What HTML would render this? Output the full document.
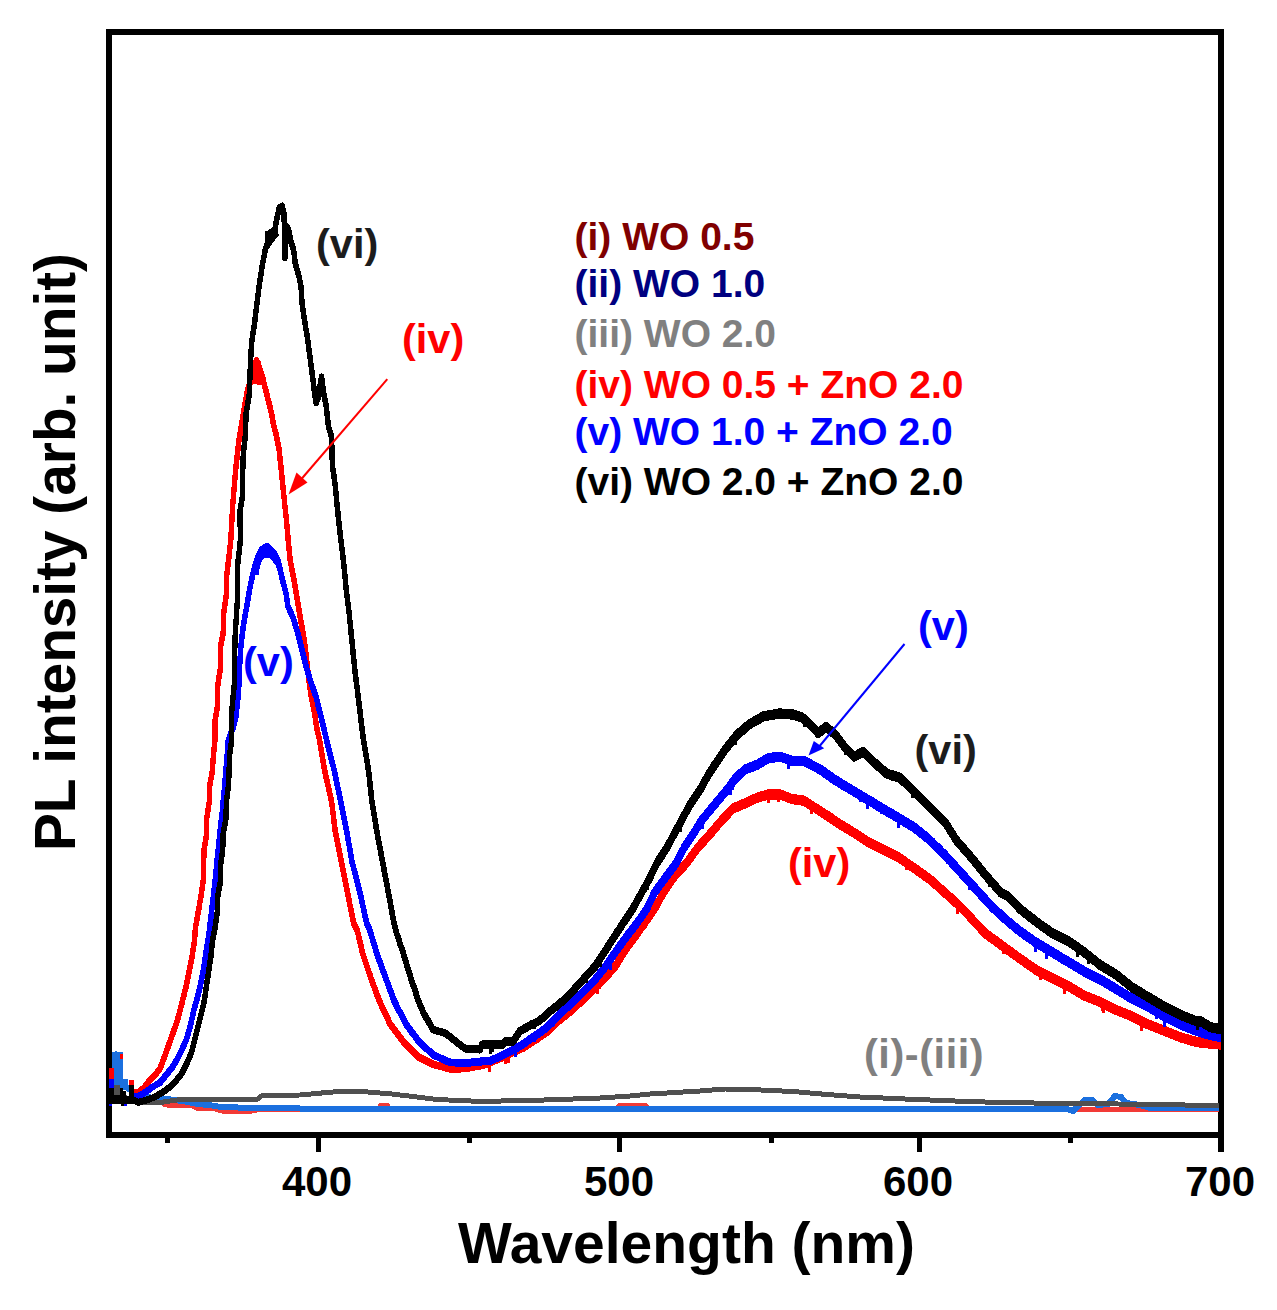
<!DOCTYPE html>
<html><head><meta charset="utf-8">
<style>
html,body{margin:0;padding:0;background:#fff;}
body{width:1277px;height:1310px;overflow:hidden;}
svg{display:block;}
text{font-family:"Liberation Sans",sans-serif;font-weight:bold;}
</style></head><body>
<svg width="1277" height="1310" viewBox="0 0 1277 1310">
<rect x="0" y="0" width="1277" height="1310" fill="#fff"/>
<g shape-rendering="crispEdges">
<rect x="106" y="29" width="1118" height="6" fill="#000"/>
<rect x="106" y="1132" width="1118" height="6" fill="#000"/>
<rect x="106" y="29" width="6" height="1109" fill="#000"/>
<rect x="1218" y="29" width="6" height="1109" fill="#000"/>
</g>
<g shape-rendering="crispEdges">
<polyline points="135.0,1097.0 147.0,1102.5 156.0,1102.5 160.0,1101.0 165.0,1105.0 192.0,1105.2 196.0,1108.0 212.0,1108.0 223.0,1111.3 254.0,1111.0 259.0,1109.3 300.0,1109.3 378.0,1109.5 381.0,1105.0 387.0,1105.0 390.0,1109.5 615.0,1109.5 620.0,1105.0 645.0,1105.0 650.0,1109.5 1219.0,1109.0" fill="none" stroke="#f23a36" stroke-width="5" stroke-linejoin="round" stroke-linecap="butt"/>
<polyline points="126.0,1087.0 135.0,1093.0 145.0,1097.0 162.0,1098.6 175.0,1100.0 185.0,1101.5 195.0,1103.5 212.0,1105.5 221.0,1107.0 265.0,1108.3 300.0,1108.5 540.0,1108.5 880.0,1109.0 1067.0,1109.0 1073.0,1111.0 1078.0,1106.0 1085.0,1100.0 1092.0,1100.0 1098.0,1105.0 1108.0,1104.0 1115.0,1096.0 1121.0,1097.0 1126.0,1103.0 1140.0,1105.0 1150.0,1108.0 1219.0,1108.0" fill="none" stroke="#1b70df" stroke-width="6" stroke-linejoin="round" stroke-linecap="butt"/>
<polygon points="112,1052 115,1052 115,1050.5 117,1050.5 117,1052 122.5,1052 122.5,1079 128.2,1079 128.2,1090 112,1090" fill="#1b70df"/>
<polyline points="122.0,1096.0 130.0,1100.0 140.0,1103.0 160.0,1102.5 184.0,1099.0 220.0,1099.0 258.0,1099.0 262.0,1095.5 280.0,1095.3 300.0,1095.0 327.0,1092.5 345.0,1091.0 362.0,1091.5 392.0,1094.0 417.0,1097.0 437.0,1099.5 480.0,1101.4 528.0,1100.5 560.0,1099.5 600.0,1098.0 630.0,1096.0 650.0,1094.0 700.0,1091.0 725.0,1089.0 750.0,1089.5 793.0,1091.5 827.0,1094.5 860.0,1097.0 905.0,1099.0 955.0,1101.0 1000.0,1102.5 1067.0,1103.5 1168.0,1104.5 1219.0,1106.0" fill="none" stroke="#505050" stroke-width="5" stroke-linejoin="round" stroke-linecap="butt"/>
<rect x="114.4" y="1085" width="5.6" height="10" fill="#505050"/>
<rect x="109" y="1068" width="5.4" height="11" fill="#ff0000"/><rect x="120" y="1054" width="2.5" height="5.4" fill="#ff0000"/><rect x="128.8" y="1079.5" width="5" height="5" fill="#ff0000"/><rect x="133.8" y="1090" width="8.8" height="5" fill="#ff0000"/>
<polyline points="134.0,1091.7 136.0,1092.0 138.0,1092.2 139.6,1090.8 141.2,1089.3 142.9,1087.9 144.5,1086.4 146.1,1084.3 147.6,1082.3 149.2,1080.2 150.8,1078.6 152.3,1077.0 153.8,1075.5 155.4,1073.9 157.0,1071.8 158.5,1069.7 160.1,1067.6 160.9,1065.5 161.7,1063.4 162.4,1061.4 163.2,1059.3 164.0,1057.2 164.8,1055.1 165.6,1052.9 166.4,1050.7 167.1,1048.6 167.9,1046.4 168.7,1044.2 169.5,1042.0 170.3,1039.8 171.0,1037.6 171.8,1035.4 172.6,1033.2 173.4,1031.0 174.2,1028.8 175.0,1026.6 175.8,1024.4 176.6,1022.2 177.2,1020.0 177.8,1017.8 178.5,1015.6 179.1,1013.4 179.7,1011.2 180.2,1009.1 180.7,1007.0 181.2,1005.0 181.8,1002.9 182.3,1000.8 182.8,998.7 183.3,996.6 183.9,994.5 184.4,992.5 184.9,990.4 185.5,988.3 186.0,986.2 186.4,984.2 186.8,982.3 187.2,980.3 187.6,978.4 187.9,976.4 188.3,974.4 188.7,972.5 189.1,970.5 189.5,968.3 190.0,966.0 190.4,963.8 190.9,961.6 191.3,959.4 191.8,957.1 192.2,954.9 192.5,952.7 192.9,950.4 193.2,948.2 193.6,945.9 193.9,943.7 194.3,941.4 194.6,939.2 194.7,937.2 194.9,935.2 195.0,933.2 195.1,931.2 195.3,929.2 195.4,927.2 195.8,925.0 196.2,922.7 196.6,920.5 197.0,918.2 197.4,916.0 197.8,913.7 198.2,911.5 198.6,909.3 199.0,907.0 199.4,904.8 199.7,902.5 200.1,900.3 200.5,898.0 200.9,895.8 201.2,893.6 201.6,891.3 201.9,889.1 202.2,886.9 202.5,884.7 202.9,882.4 203.2,880.2 203.3,878.0 203.3,875.7 203.4,873.5 203.5,871.2 203.6,869.0 203.6,866.7 203.7,864.5 203.7,862.3 203.8,860.0 203.8,857.8 203.9,855.5 203.9,853.3 204.0,851.0 204.0,848.8 204.4,846.6 204.8,844.3 205.2,842.1 205.5,839.9 205.9,837.7 206.3,835.4 206.7,833.2 206.7,831.0 206.7,828.7 206.7,826.5 206.7,824.2 206.7,822.0 206.7,819.7 206.7,817.5 207.1,815.3 207.4,813.0 207.8,810.8 208.1,808.5 208.5,806.3 208.8,804.0 209.2,801.8 209.2,799.6 209.3,797.3 209.3,795.1 209.4,792.9 209.4,790.7 209.5,788.4 209.5,786.2 209.9,784.0 210.3,781.7 210.7,779.5 211.1,777.2 211.5,775.0 211.9,772.7 212.3,770.5 212.5,768.3 212.6,766.0 212.8,763.8 212.9,761.6 213.1,759.4 213.2,757.1 213.4,754.9 213.6,752.7 213.9,750.4 214.1,748.2 214.3,745.9 214.5,743.7 214.8,741.4 215.0,739.2 215.0,737.2 215.0,735.1 215.0,733.1 215.0,731.1 215.0,729.0 215.0,727.0 215.0,725.0 215.0,722.9 215.0,720.9 215.3,718.7 215.7,716.6 216.0,714.4 216.3,712.2 216.7,710.1 217.0,707.9 217.4,705.8 217.7,703.6 217.7,701.5 217.7,699.4 217.7,697.4 217.7,695.3 217.7,693.2 217.7,691.1 217.7,689.1 217.7,687.0 217.7,684.9 218.0,682.9 218.3,680.8 218.6,678.8 218.9,676.7 219.2,674.7 219.6,672.7 219.9,670.6 220.2,668.6 220.5,666.5 220.8,664.5 220.8,662.4 220.7,660.3 220.7,658.2 220.7,656.1 220.6,654.1 220.6,652.0 220.6,649.9 220.5,647.8 220.5,645.7 220.9,643.6 221.4,641.5 221.8,639.5 222.2,637.4 222.7,635.3 223.1,633.2 223.2,631.2 223.2,629.1 223.2,627.1 223.3,625.0 223.3,623.0 223.4,621.0 223.4,618.9 223.5,616.9 223.5,614.8 223.6,612.8 223.9,610.7 224.2,608.6 224.5,606.5 224.8,604.4 225.1,602.4 225.4,600.3 225.7,598.2 226.0,596.1 226.3,594.0 226.3,591.9 226.4,589.8 226.4,587.7 226.5,585.6 226.5,583.6 226.6,581.5 226.6,579.4 226.7,577.3 226.7,575.2 226.9,573.2 227.2,571.1 227.4,569.1 227.7,567.1 227.9,565.1 228.1,563.0 228.4,561.0 228.6,559.0 228.9,556.9 229.1,554.9 229.3,552.7 229.6,550.4 229.8,548.2 230.1,545.9 230.3,543.7 230.6,541.4 230.8,539.2 230.9,537.2 231.0,535.2 231.1,533.1 231.2,531.1 231.3,529.1 231.4,527.1 231.5,525.0 231.7,523.0 231.8,521.0 231.9,519.0 232.0,516.9 232.1,514.9 232.2,512.9 232.3,510.9 232.4,508.8 232.5,506.8 232.7,504.8 232.8,502.8 233.0,500.8 233.2,498.8 233.3,496.8 233.5,494.8 233.7,492.8 233.8,490.8 234.0,488.8 234.2,486.8 234.3,484.8 234.5,482.8 234.7,480.8 234.8,478.8 235.0,476.8 235.2,474.8 235.3,472.8 235.5,470.8 235.7,468.8 235.9,466.8 236.1,464.8 236.4,462.7 236.6,460.7 236.8,458.7 237.0,456.7 237.2,454.7 237.4,452.7 237.6,450.7 237.9,448.6 238.1,446.6 238.3,444.6 238.5,442.6 238.8,440.5 239.2,438.4 239.5,436.3 239.8,434.2 240.2,432.2 240.5,430.1 240.8,428.0 241.2,425.9 241.5,423.8 241.9,421.6 242.2,419.5 242.6,417.3 243.0,415.2 243.4,413.0 243.8,410.8 244.1,408.7 244.5,406.5 244.9,404.4 245.2,402.2 245.6,400.1 246.0,397.9 246.4,395.8 246.8,393.6 247.1,391.4 247.5,389.3 248.3,387.1 249.1,384.9 249.9,382.8 250.7,380.6 251.5,378.4 252.0,376.2 252.4,373.9 252.9,371.7 253.3,369.4 253.8,367.2 254.4,365.3 255.1,363.4 255.8,361.5 256.4,359.6 257.0,361.8 257.6,364.0 258.3,366.1 258.9,368.3 259.5,370.5 260.3,372.6 261.1,374.7 261.9,376.8 262.6,378.9 263.4,381.0 264.2,383.1 264.7,385.2 265.2,387.3 265.8,389.3 266.3,391.4 266.8,393.5 267.3,395.6 267.8,397.7 268.4,399.8 268.9,401.8 269.4,403.9 270.0,406.0 270.5,408.1 270.9,410.1 271.3,412.0 271.7,414.0 272.1,415.9 272.4,417.9 272.8,419.9 273.2,421.8 273.6,423.8 274.1,425.9 274.6,428.0 275.1,430.1 275.7,432.1 276.2,434.2 276.7,436.3 277.1,438.4 277.5,440.5 277.9,442.6 278.3,444.6 278.7,446.7 279.1,448.8 279.3,450.8 279.5,452.8 279.7,454.8 279.9,456.8 280.1,458.8 280.4,460.8 280.6,462.8 280.8,464.8 281.0,466.8 281.2,468.8 281.4,470.8 281.6,472.9 281.8,475.0 282.0,477.1 282.3,479.1 282.5,481.2 282.7,483.3 282.9,485.4 283.1,487.5 283.3,489.6 283.5,491.7 283.7,493.8 284.0,495.8 284.2,497.9 284.4,500.0 284.6,502.1 284.8,504.1 285.0,506.1 285.2,508.1 285.4,510.1 285.6,512.1 285.9,514.0 286.1,516.0 286.3,518.0 286.5,520.0 286.7,522.0 286.9,524.0 287.1,526.2 287.3,528.3 287.5,530.5 287.6,532.7 287.8,534.9 288.0,537.0 288.2,539.2 288.4,541.2 288.6,543.3 288.8,545.3 289.0,547.4 289.2,549.4 289.4,551.4 289.6,553.5 289.8,555.5 290.0,557.6 290.2,559.6 290.6,561.6 291.0,563.7 291.4,565.7 291.8,567.7 292.1,569.8 292.5,571.8 292.9,573.8 293.3,575.8 293.7,577.9 294.1,579.9 294.4,582.0 294.8,584.1 295.1,586.2 295.5,588.3 295.8,590.3 296.2,592.4 296.5,594.5 296.9,596.6 297.2,598.7 297.6,600.8 297.9,602.9 298.3,605.0 298.6,607.1 299.0,609.1 299.3,611.2 299.7,613.3 300.0,615.4 300.4,617.5 300.8,619.5 301.1,621.5 301.5,623.5 301.8,625.5 302.2,627.4 302.5,629.4 302.9,631.4 303.2,633.4 303.6,635.4 303.9,637.4 304.3,639.4 304.6,641.5 304.8,643.6 305.1,645.7 305.3,647.7 305.6,649.8 305.8,651.9 306.1,654.0 306.3,656.1 306.6,658.2 306.8,660.2 307.0,662.2 307.3,664.2 307.5,666.2 307.7,668.2 307.9,670.2 308.1,672.2 308.3,674.2 308.6,676.2 308.8,678.2 309.0,680.2 309.3,682.4 309.7,684.6 310.0,686.9 310.3,689.1 310.6,691.3 311.0,693.5 311.3,695.8 311.7,697.7 312.1,699.7 312.5,701.7 312.9,703.6 313.2,705.6 313.6,707.5 314.0,709.5 314.4,711.5 314.7,713.7 315.1,715.9 315.4,718.2 315.8,720.4 316.1,722.7 316.5,724.9 316.8,727.2 317.2,729.2 317.7,731.1 318.1,733.1 318.6,735.1 319.1,737.1 319.5,739.1 319.8,741.2 320.2,743.2 320.5,745.2 320.9,747.3 321.2,749.3 321.5,751.3 321.9,753.4 322.2,755.4 322.6,757.4 322.9,759.5 323.2,761.5 323.6,763.5 323.9,765.6 324.3,767.6 324.6,769.6 325.1,771.7 325.5,773.7 326.0,775.7 326.4,777.8 326.9,779.8 327.4,781.9 327.8,783.9 328.3,785.9 328.7,788.0 329.2,790.0 329.7,792.1 330.1,794.1 330.6,796.1 331.0,798.2 331.5,800.2 331.8,802.2 332.0,804.3 332.3,806.3 332.5,808.3 332.8,810.4 333.0,812.4 333.3,814.4 333.5,816.5 333.8,818.5 334.0,820.5 334.3,822.6 334.5,824.6 334.8,826.6 335.0,828.7 335.3,830.7 335.7,832.7 336.1,834.8 336.5,836.8 336.9,838.8 337.3,840.9 337.7,842.9 338.1,844.9 338.6,847.0 339.0,849.0 339.4,851.0 339.8,853.1 340.2,855.1 340.6,857.1 341.0,859.1 341.4,861.2 341.8,863.2 342.2,865.3 342.6,867.3 343.0,869.3 343.4,871.4 343.8,873.4 344.2,875.5 344.7,877.5 345.1,879.5 345.5,881.6 345.9,883.6 346.3,885.6 346.7,887.7 347.1,889.7 347.5,891.8 347.9,893.8 348.3,895.8 348.7,897.9 349.1,899.9 349.5,901.9 349.9,904.0 350.3,906.0 350.8,908.0 351.2,910.1 351.6,912.1 352.0,914.1 352.4,916.2 352.8,918.2 353.2,920.2 353.6,922.2 354.8,924.5 356.0,926.8 357.2,929.0 357.7,931.0 358.1,933.0 358.6,934.9 359.0,936.9 359.5,938.8 359.9,940.8 360.4,942.7 360.9,944.7 361.3,946.6 361.8,948.6 362.2,950.6 362.7,952.5 363.3,954.5 364.0,956.4 364.6,958.4 365.3,960.3 365.9,962.3 366.6,964.3 367.2,966.2 367.9,968.2 368.6,970.1 369.2,972.1 369.9,974.0 370.5,976.0 371.2,978.0 371.9,979.9 372.7,981.9 373.4,983.8 374.1,985.8 374.9,987.7 375.6,989.7 376.3,991.6 377.0,993.6 377.8,995.6 378.5,997.5 379.2,999.5 380.1,1001.4 381.0,1003.4 381.9,1005.3 382.8,1007.3 383.7,1009.3 384.6,1011.2 385.6,1013.2 386.5,1015.1 387.4,1017.1 388.3,1019.0 389.2,1021.0 390.1,1022.9 391.4,1024.6 392.7,1026.4 393.9,1028.1 395.2,1029.8 396.5,1031.5 397.8,1033.2 399.1,1034.9 400.4,1036.6 401.6,1038.3 402.9,1040.0 404.2,1041.7 405.8,1043.3 407.3,1044.8 408.9,1046.4 410.5,1048.0 412.0,1049.5 413.6,1051.1 415.2,1052.6 416.7,1054.2 418.3,1055.8 420.3,1056.7 422.2,1057.7 424.2,1058.7 426.1,1059.6 428.1,1060.6 430.1,1061.6 432.0,1062.5 434.0,1063.5 436.1,1064.0 438.2,1064.5 440.3,1065.1 442.4,1065.6 444.4,1066.1 446.5,1066.6 448.6,1067.1 450.7,1067.6 452.8,1068.1 455.0,1067.9 457.3,1067.7 459.5,1067.4 461.7,1067.2 463.9,1066.9 466.2,1066.7 468.4,1066.5 470.4,1066.1 472.3,1065.7 474.3,1065.3 476.2,1064.9 478.2,1064.5 480.2,1064.1 482.1,1063.7 484.1,1063.3 486.1,1062.5 488.0,1061.7 489.9,1060.9 491.9,1060.1 493.9,1059.3 495.8,1058.5 497.8,1057.7 499.7,1056.9 501.6,1056.0 503.6,1055.0 505.5,1054.1 507.4,1053.2 509.4,1052.3 511.3,1051.3 513.4,1050.4 515.5,1049.5 517.6,1048.5 519.7,1047.6 521.8,1046.6 523.9,1045.7 525.7,1044.5 527.5,1043.3 529.3,1042.1 531.0,1041.0 532.8,1039.8 534.6,1038.6 536.4,1037.4 538.2,1036.2 540.0,1034.9 541.8,1033.6 543.5,1032.4 545.3,1031.1 547.1,1029.8 548.9,1028.6 550.5,1027.0 552.0,1025.4 553.6,1023.8 555.2,1022.3 556.7,1020.7 558.3,1019.1 560.0,1017.8 561.6,1016.4 563.3,1015.1 565.0,1013.8 566.7,1012.4 568.3,1011.1 570.0,1009.8 571.5,1008.4 573.0,1007.0 574.6,1005.6 576.1,1004.2 577.6,1002.8 579.1,1001.4 580.6,1000.0 582.1,998.6 583.7,997.2 585.2,995.8 586.7,994.4 588.3,992.8 589.8,991.3 591.4,989.8 592.9,988.2 594.5,986.7 596.1,985.1 597.6,983.6 599.2,982.1 600.7,980.5 602.3,979.0 603.6,977.5 605.0,975.9 606.3,974.4 607.7,972.9 609.0,971.4 610.3,969.8 611.7,968.3 613.0,966.8 614.4,965.2 615.7,963.7 616.9,961.8 618.0,959.9 619.1,958.0 620.3,956.0 621.5,954.1 622.6,952.2 623.8,950.3 624.9,948.4 626.1,946.7 627.4,945.0 628.6,943.3 629.8,941.6 631.1,940.0 632.3,938.3 633.5,936.6 634.8,934.9 636.0,933.2 637.3,931.3 638.7,929.4 640.0,927.5 641.3,925.6 642.7,923.7 644.0,921.8 645.2,920.1 646.4,918.4 647.6,916.7 648.8,915.0 649.9,913.3 651.1,911.5 652.3,909.8 653.5,908.1 654.7,906.4 655.7,904.5 656.8,902.6 657.8,900.7 658.9,898.8 659.9,896.8 660.9,894.9 662.0,893.0 663.0,891.1 664.1,889.4 665.2,887.7 666.3,886.0 667.4,884.3 668.6,882.6 669.7,880.9 670.8,879.2 671.9,877.5 673.0,875.8 674.4,874.3 675.7,872.8 677.1,871.2 678.5,869.7 679.9,868.2 681.2,866.6 682.6,865.1 684.0,863.5 685.3,862.0 686.7,860.5 687.9,858.8 689.1,857.1 690.4,855.4 691.6,853.8 692.8,852.1 694.0,850.4 695.3,848.8 696.5,847.1 697.7,845.4 699.2,843.7 700.7,842.0 702.2,840.3 703.8,838.7 705.3,837.0 706.8,835.3 708.3,833.6 709.6,832.0 711.0,830.5 712.3,828.9 713.6,827.4 715.0,825.8 716.3,824.2 717.6,822.7 718.9,821.1 720.3,819.6 721.6,818.0 723.1,816.5 724.5,815.0 726.0,813.4 727.5,811.9 728.9,810.4 730.4,808.8 731.8,807.3 733.3,805.8 735.2,805.0 737.2,804.2 739.1,803.3 741.1,802.5 743.0,801.7 745.0,800.9 747.0,800.0 748.9,799.1 750.9,798.1 752.8,797.2 754.8,796.3 756.7,795.4 758.7,794.8 760.6,794.2 762.6,793.6 764.6,793.1 766.5,792.5 768.5,791.9 770.8,791.9 773.2,791.9 775.5,791.9 777.9,791.9 780.2,791.9 782.2,792.7 784.1,793.5 786.1,794.2 788.1,795.0 790.0,795.8 792.0,796.6 794.3,796.9 796.7,797.2 799.0,797.6 801.4,797.9 803.7,798.2 805.7,799.4 807.6,800.7 809.6,801.9 811.6,803.1 813.5,804.4 815.5,805.6 817.5,806.9 819.4,808.1 821.4,809.4 823.3,810.6 825.2,811.9 827.2,813.1 828.9,814.3 830.6,815.4 832.3,816.6 833.9,817.8 835.6,819.0 837.3,820.1 839.0,821.3 840.8,822.3 842.5,823.4 844.3,824.4 846.0,825.4 847.8,826.4 849.5,827.5 851.3,828.5 853.0,829.7 854.8,830.8 856.5,832.0 858.3,833.1 860.0,834.3 861.8,835.4 863.5,836.6 865.3,837.7 867.0,838.9 869.0,839.9 870.9,840.9 872.9,841.9 874.8,842.8 876.8,843.8 878.7,844.8 880.6,845.8 882.6,846.8 884.6,847.8 886.5,848.8 888.5,849.7 890.5,850.7 892.4,851.7 894.4,852.6 896.3,853.6 898.3,854.6 900.0,855.8 901.8,857.0 903.5,858.3 905.3,859.5 907.0,860.7 908.8,861.9 910.5,863.2 912.3,864.4 914.0,865.6 915.7,866.8 917.5,868.0 919.2,869.2 920.9,870.4 922.7,871.7 924.4,872.9 926.1,874.1 927.9,875.3 929.6,876.5 931.2,877.9 932.7,879.3 934.3,880.7 935.9,882.1 937.5,883.5 939.0,885.0 940.6,886.4 942.2,887.8 943.7,889.2 945.3,890.6 946.9,892.0 948.4,893.4 950.0,894.8 951.6,896.2 953.1,897.7 954.7,899.1 956.3,900.5 957.9,901.9 959.4,903.3 961.0,904.7 962.4,906.2 963.8,907.8 965.2,909.3 966.6,910.8 968.1,912.3 969.5,913.9 970.9,915.4 972.3,916.9 973.7,918.5 975.1,920.0 976.5,921.5 977.9,923.1 979.4,924.6 980.8,926.1 982.2,927.6 983.6,929.2 985.0,930.7 986.7,932.0 988.5,933.2 990.2,934.5 992.0,935.8 993.7,937.0 995.5,938.3 997.2,939.6 999.0,940.8 1000.7,942.1 1002.4,943.4 1004.2,944.6 1005.9,945.9 1007.6,947.2 1009.4,948.4 1011.1,949.7 1012.8,951.0 1014.6,952.2 1016.3,953.5 1017.9,954.7 1019.6,955.8 1021.2,957.0 1022.9,958.1 1024.5,959.3 1026.2,960.5 1027.8,961.6 1029.5,962.8 1031.1,963.9 1032.8,965.1 1034.4,966.2 1036.1,967.4 1038.1,968.4 1040.1,969.4 1042.1,970.4 1044.1,971.4 1046.1,972.4 1048.1,973.4 1050.1,974.4 1052.1,975.4 1053.9,976.3 1055.7,977.2 1057.5,978.1 1059.3,979.0 1061.0,979.9 1062.8,980.8 1064.6,981.7 1066.4,982.6 1068.2,983.5 1070.0,984.6 1071.8,985.6 1073.5,986.7 1075.3,987.8 1077.1,988.8 1078.9,989.9 1080.6,991.0 1082.4,992.0 1084.2,993.1 1086.2,993.9 1088.2,994.7 1090.2,995.5 1092.2,996.3 1094.3,997.1 1096.3,997.9 1098.3,998.7 1100.3,999.5 1102.3,1000.5 1104.3,1001.5 1106.3,1002.5 1108.3,1003.5 1110.3,1004.5 1112.3,1005.5 1114.3,1006.5 1116.3,1007.5 1118.3,1008.3 1120.3,1009.1 1122.3,1009.9 1124.3,1010.8 1126.4,1011.6 1128.4,1012.4 1130.4,1013.2 1132.4,1014.0 1134.4,1015.0 1136.4,1016.0 1138.4,1017.0 1140.4,1018.0 1142.4,1019.0 1144.4,1020.0 1146.4,1021.0 1148.4,1022.0 1150.4,1022.8 1152.4,1023.6 1154.4,1024.4 1156.5,1025.2 1158.5,1026.0 1160.5,1026.8 1162.5,1027.6 1164.5,1028.4 1166.5,1029.2 1168.5,1030.0 1170.5,1030.8 1172.5,1031.6 1174.5,1032.4 1176.5,1033.2 1178.5,1034.0 1180.5,1034.8 1182.5,1035.4 1184.5,1036.0 1186.5,1036.6 1188.5,1037.2 1190.6,1037.8 1192.6,1038.4 1194.6,1039.0 1196.6,1039.6 1198.8,1039.8 1201.1,1040.1 1203.3,1040.3 1205.5,1040.5 1207.8,1040.8 1210.0,1041.0 1212.2,1041.2 1214.4,1041.4 1216.6,1041.6 1218.8,1041.8 1221.0,1042.0" fill="none" stroke="#ff0000" stroke-width="5.3" stroke-linejoin="round" stroke-linecap="butt"/>
<polyline points="134.0,1093.3 136.0,1093.5 138.0,1093.8 139.6,1092.3 141.2,1090.9 142.9,1089.5 144.5,1088.0 146.1,1085.9 147.6,1083.9 149.2,1081.8 150.8,1080.2 152.3,1078.6 153.8,1077.1 155.4,1075.5 157.0,1073.4 158.5,1071.3 160.1,1069.2 160.9,1067.1 161.7,1065.0 162.4,1063.0 163.2,1060.9 164.0,1058.8 164.8,1056.7 165.6,1054.5 166.4,1052.3 167.1,1050.2 167.9,1048.0 168.7,1045.8 169.5,1043.6 170.3,1041.4 171.0,1039.2 171.8,1037.0 172.6,1034.8 173.4,1032.6 174.2,1030.4 175.0,1028.2 175.8,1026.0 176.6,1023.8 177.2,1021.6 177.8,1019.4 178.5,1017.2 179.1,1015.0 179.7,1012.8 180.2,1010.7 180.7,1008.6 181.2,1006.5 181.8,1004.5 182.3,1002.4 182.8,1000.3 183.3,998.2 183.9,996.1 184.4,994.0 184.9,992.0 185.5,989.9 186.0,987.8 186.4,985.8 186.8,983.9 187.2,981.9 187.6,979.9 187.9,978.0 188.3,976.0 188.7,974.1 189.1,972.1 189.5,969.9 190.0,967.6 190.4,965.4 190.9,963.2 191.3,961.0 191.8,958.7 192.2,956.5 192.5,954.3 192.9,952.0 193.2,949.8 193.6,947.5 193.9,945.3 194.3,943.0 194.6,940.8 194.7,938.8 194.9,936.8 195.0,934.8 195.1,932.8 195.3,930.8 195.4,928.8 195.8,926.6 196.2,924.3 196.6,922.1 197.0,919.8 197.4,917.6 197.8,915.3 198.2,913.1 198.6,910.9 199.0,908.6 199.4,906.4 199.7,904.1 200.1,901.9 200.5,899.6 200.9,897.4 201.2,895.2 201.6,892.9 201.9,890.7 202.2,888.5 202.5,886.3 202.9,884.0 203.2,881.8 203.3,879.6 203.3,877.3 203.4,875.1 203.5,872.8 203.6,870.6 203.6,868.3 203.7,866.1 203.7,863.9 203.8,861.6 203.8,859.4 203.9,857.1 203.9,854.9 204.0,852.6 204.0,850.4 204.4,848.2 204.8,845.9 205.2,843.7 205.5,841.5 205.9,839.3 206.3,837.0 206.7,834.8 206.7,832.6 206.7,830.3 206.7,828.1 206.7,825.8 206.7,823.6 206.7,821.3 206.7,819.1 207.1,816.9 207.4,814.6 207.8,812.4 208.1,810.1 208.5,807.9 208.8,805.6 209.2,803.4 209.2,801.2 209.3,798.9 209.3,796.7 209.4,794.5 209.4,792.3 209.5,790.0 209.5,787.8 209.9,785.6 210.3,783.3 210.7,781.1 211.1,778.8 211.5,776.6 211.9,774.3 212.3,772.1 212.5,769.9 212.6,767.6 212.8,765.4 212.9,763.2 213.1,761.0 213.2,758.7 213.4,756.5 213.6,754.3 213.9,752.0 214.1,749.8 214.3,747.5 214.5,745.3 214.8,743.0 215.0,740.8 215.0,738.8 215.0,736.7 215.0,734.7 215.0,732.7 215.0,730.6 215.0,728.6 215.0,726.6 215.0,724.5 215.0,722.5 215.3,720.3 215.7,718.2 216.0,716.0 216.3,713.8 216.7,711.7 217.0,709.5 217.4,707.4 217.7,705.2 217.7,703.1 217.7,701.0 217.7,699.0 217.7,696.9 217.7,694.8 217.7,692.7 217.7,690.7 217.7,688.6 217.7,686.5 218.0,684.5 218.3,682.4 218.6,680.4 218.9,678.3 219.2,676.3 219.6,674.3 219.9,672.2 220.2,670.2 220.5,668.1 220.8,666.1 220.8,664.0 220.7,661.9 220.7,659.8 220.7,657.7 220.6,655.7 220.6,653.6 220.6,651.5 220.5,649.4 220.5,647.3 220.9,645.2 221.4,643.1 221.8,641.0 222.2,639.0 222.7,636.9 223.1,634.8 223.2,632.8 223.2,630.7 223.2,628.7 223.3,626.6 223.3,624.6 223.4,622.6 223.4,620.5 223.5,618.5 223.5,616.4 223.6,614.4 223.9,612.3 224.2,610.2 224.5,608.1 224.8,606.0 225.1,604.0 225.4,601.9 225.7,599.8 226.0,597.7 226.3,595.6 226.3,593.5 226.4,591.4 226.4,589.3 226.5,587.2 226.5,585.2 226.6,583.1 226.6,581.0 226.7,578.9 226.7,576.8 226.9,574.8 227.2,572.7 227.4,570.7 227.7,568.7 227.9,566.6 228.1,564.6 228.4,562.6 228.6,560.6 228.9,558.5 229.1,556.5 229.3,554.3 229.6,552.0 229.8,549.8 230.1,547.5 230.3,545.3 230.6,543.0 230.8,540.8 230.9,538.8 231.0,536.8 231.1,534.7 231.2,532.7 231.3,530.7 231.4,528.6 231.5,526.6 231.7,524.6 231.8,522.6 231.9,520.5 232.0,518.5 232.1,516.5 232.2,514.5 232.3,512.5 232.4,510.4 232.5,508.4 232.7,506.4 232.8,504.4 233.0,502.4 233.2,500.4 233.3,498.4 233.5,496.4 233.7,494.4 233.8,492.4 234.0,490.4 234.2,488.4 234.3,486.4 234.5,484.4 234.7,482.4 234.8,480.4 235.0,478.4 235.2,476.4 235.3,474.4 235.5,472.4 235.7,470.4 235.9,468.4 236.1,466.4 236.4,464.3 236.6,462.3 236.8,460.3 237.0,458.3 237.2,456.3 237.4,454.3 237.6,452.3 237.9,450.2 238.1,448.2 238.3,446.2 238.5,444.2 238.8,442.1 239.2,440.0 239.5,437.9 239.8,435.8 240.2,433.8 240.5,431.7 240.8,429.6 241.2,427.5 241.5,425.4 241.9,423.2 242.2,421.1 242.6,418.9 243.0,416.8 243.4,414.6 243.8,412.4 244.1,410.3 244.5,408.1 244.9,406.0 245.2,403.8 245.6,401.7 246.0,399.5 246.4,397.4 246.8,395.2 247.1,393.1 247.5,390.9 248.3,388.7 249.1,386.5 249.9,384.4 250.7,382.2 251.5,380.0 252.0,377.8 252.4,375.5 252.9,373.3 253.3,371.0 253.8,368.8 254.4,366.9 255.1,365.0 255.8,363.1 256.4,361.2 257.0,363.4 257.6,365.6 258.3,367.7 258.9,369.9 259.5,372.1 260.3,374.2 261.1,376.3 261.9,378.4 262.6,380.5 263.4,382.6 264.2,384.7 264.7,386.8 265.2,388.9 265.8,390.9 266.3,393.0 266.8,395.1 267.3,397.2 267.8,399.3 268.4,401.4 268.9,403.4 269.4,405.5 270.0,407.6 270.5,409.7 270.9,411.7 271.3,413.6 271.7,415.6 272.1,417.6 272.4,419.5 272.8,421.5 273.2,423.4 273.6,425.4 274.1,427.5 274.6,429.6 275.1,431.7 275.7,433.7 276.2,435.8 276.7,437.9 277.1,440.0 277.5,442.1 277.9,444.2 278.3,446.2 278.7,448.3 279.1,450.4 279.3,452.4 279.5,454.4 279.7,456.4 279.9,458.4 280.1,460.4 280.4,462.4 280.6,464.4 280.8,466.4 281.0,468.4 281.2,470.4 281.4,472.4 281.6,474.5 281.8,476.6 282.0,478.7 282.3,480.7 282.5,482.8 282.7,484.9 282.9,487.0 283.1,489.1 283.3,491.2 283.5,493.3 283.7,495.4 284.0,497.4 284.2,499.5 284.4,501.6 284.6,503.7 284.8,505.7 285.0,507.7 285.2,509.7 285.4,511.7 285.6,513.7 285.9,515.6 286.1,517.6 286.3,519.6 286.5,521.6 286.7,523.6 286.9,525.6 287.1,527.8 287.3,529.9 287.5,532.1 287.6,534.3 287.8,536.5 288.0,538.6 288.2,540.8 288.4,542.8 288.6,544.9 288.8,546.9 289.0,549.0 289.2,551.0 289.4,553.0 289.6,555.1 289.8,557.1 290.0,559.2 290.2,561.2 290.6,563.2 291.0,565.3 291.4,567.3 291.8,569.3 292.1,571.3 292.5,573.4 292.9,575.4 293.3,577.4 293.7,579.5 294.1,581.5 294.4,583.6 294.8,585.7 295.1,587.8 295.5,589.9 295.8,591.9 296.2,594.0 296.5,596.1 296.9,598.2 297.2,600.3 297.6,602.4 297.9,604.5 298.3,606.6 298.6,608.7 299.0,610.7 299.3,612.8 299.7,614.9 300.0,617.0 300.4,619.1 300.8,621.1 301.1,623.1 301.5,625.1 301.8,627.1 302.2,629.1 302.5,631.1 302.9,633.0 303.2,635.0 303.6,637.0 303.9,639.0 304.3,641.0 304.6,643.1 304.8,645.2 305.1,647.3 305.3,649.4 305.6,651.5 305.8,653.6 306.1,655.6 306.3,657.7 306.6,659.8 306.8,661.8 307.0,663.8 307.3,665.8 307.5,667.8 307.7,669.8 307.9,671.8 308.1,673.8 308.3,675.8 308.6,677.8 308.8,679.8 309.0,681.8 309.3,684.1 309.7,686.3 310.0,688.5 310.3,690.7 310.6,693.0 311.0,695.2 311.3,697.4 311.7,699.4 312.1,701.4 312.5,703.3 312.9,705.3 313.2,707.3 313.6,709.2 314.0,711.2 314.4,713.1 314.7,715.4 315.1,717.6 315.4,719.9 315.8,722.1 316.1,724.4 316.5,726.6 316.8,728.8 317.2,730.8 317.7,732.9 318.1,734.9 318.6,736.9 319.1,738.9 319.5,740.9 319.8,742.9 320.2,744.9 320.5,747.0 320.9,749.0 321.2,751.0 321.5,753.1 321.9,755.1 322.2,757.1 322.6,759.2 322.9,761.2 323.2,763.2 323.6,765.3 323.9,767.3 324.3,769.3 324.6,771.4 325.1,773.4 325.5,775.5 326.0,777.5 326.4,779.5 326.9,781.6 327.4,783.6 327.8,785.7 328.3,787.7 328.7,789.7 329.2,791.8 329.7,793.8 330.1,795.9 330.6,797.9 331.0,799.9 331.5,802.0 331.8,804.0 332.0,806.1 332.3,808.1 332.5,810.1 332.8,812.2 333.0,814.2 333.3,816.2 333.5,818.3 333.8,820.3 334.0,822.3 334.3,824.4 334.5,826.4 334.8,828.4 335.0,830.5 335.3,832.5 335.7,834.5 336.1,836.6 336.5,838.6 336.9,840.6 337.3,842.7 337.7,844.7 338.1,846.7 338.6,848.8 339.0,850.8 339.4,852.8 339.8,854.9 340.2,856.9 340.6,858.9 341.0,861.0 341.4,863.0 341.8,865.1 342.2,867.1 342.6,869.1 343.0,871.2 343.4,873.2 343.8,875.3 344.2,877.3 344.7,879.3 345.1,881.4 345.5,883.4 345.9,885.5 346.3,887.5 346.7,889.6 347.1,891.6 347.5,893.6 347.9,895.7 348.3,897.7 348.7,899.7 349.1,901.8 349.5,903.8 349.9,905.8 350.3,907.9 350.8,909.9 351.2,911.9 351.6,914.0 352.0,916.0 352.4,918.0 352.8,920.1 353.2,922.1 353.6,924.2 354.8,926.4 356.0,928.7 357.2,931.0 357.7,932.9 358.1,934.9 358.6,936.8 359.0,938.8 359.5,940.8 359.9,942.7 360.4,944.7 360.9,946.6 361.3,948.6 361.8,950.6 362.2,952.5 362.7,954.5 363.3,956.4 364.0,958.4 364.6,960.4 365.3,962.3 365.9,964.3 366.6,966.2 367.2,968.2 367.9,970.2 368.6,972.1 369.2,974.1 369.9,976.0 370.5,978.0 371.2,980.0 371.9,981.9 372.7,983.9 373.4,985.8 374.1,987.8 374.9,989.8 375.6,991.7 376.3,993.7 377.0,995.6 377.8,997.6 378.5,999.6 379.2,1001.5 380.1,1003.5 381.0,1005.4 381.9,1007.4 382.8,1009.4 383.7,1011.3 384.6,1013.3 385.6,1015.3 386.5,1017.2 387.4,1019.2 388.3,1021.1 389.2,1023.1 390.1,1025.1 391.4,1026.8 392.7,1028.5 393.9,1030.2 395.2,1031.9 396.5,1033.6 397.8,1035.3 399.1,1037.0 400.4,1038.8 401.6,1040.5 402.9,1042.2 404.2,1043.9 405.8,1045.5 407.3,1047.0 408.9,1048.6 410.5,1050.2 412.0,1051.8 413.6,1053.3 415.2,1054.9 416.7,1056.5 418.3,1058.0 420.3,1059.0 422.2,1060.0 424.2,1061.0 426.1,1062.0 428.1,1062.9 430.1,1063.9 432.0,1064.9 434.0,1065.9 436.1,1066.4 438.2,1066.9 440.3,1067.5 442.4,1068.0 444.4,1068.5 446.5,1069.1 448.6,1069.6 450.7,1070.1 452.8,1070.7 455.0,1070.4 457.3,1070.2 459.5,1070.0 461.7,1069.8 463.9,1069.6 466.2,1069.4 468.4,1069.1 470.4,1068.8 472.3,1068.4 474.3,1068.0 476.2,1067.6 478.2,1067.3 480.2,1066.9 482.1,1066.5 484.1,1066.1 486.1,1065.3 488.0,1064.6 489.9,1063.8 491.9,1063.0 493.9,1062.2 495.8,1061.5 497.8,1060.7 499.7,1059.9 501.6,1059.0 503.6,1058.1 505.5,1057.2 507.4,1056.3 509.4,1055.4 511.3,1054.5 513.4,1053.5 515.5,1052.6 517.6,1051.7 519.7,1050.8 521.8,1049.8 523.9,1048.9 525.7,1047.8 527.5,1046.6 529.3,1045.4 531.0,1044.3 532.8,1043.1 534.6,1041.9 536.4,1040.8 538.2,1039.5 540.0,1038.3 541.8,1037.0 543.5,1035.8 545.3,1034.5 547.1,1033.3 548.9,1032.0 550.5,1030.5 552.0,1028.9 553.6,1027.4 555.2,1025.8 556.7,1024.3 558.3,1022.7 560.0,1021.4 561.6,1020.1 563.3,1018.7 565.0,1017.4 566.7,1016.1 568.3,1014.8 570.0,1013.5 571.5,1012.1 573.0,1010.7 574.6,1009.3 576.1,1007.9 577.6,1006.5 579.1,1005.2 580.6,1003.8 582.1,1002.4 583.7,1001.0 585.2,999.6 586.7,998.2 588.3,996.7 589.8,995.2 591.4,993.7 592.9,992.1 594.5,990.6 596.1,989.1 597.6,987.6 599.2,986.1 600.7,984.5 602.3,983.0 603.6,981.5 605.0,980.0 606.3,978.5 607.7,977.0 609.0,975.4 610.3,973.9 611.7,972.4 613.0,970.9 614.4,969.4 615.7,967.9 616.9,966.0 618.0,964.1 619.1,962.2 620.3,960.3 621.5,958.3 622.6,956.4 623.8,954.5 624.9,952.6 626.1,951.0 627.4,949.3 628.6,947.6 629.8,945.9 631.1,944.3 632.3,942.6 633.5,940.9 634.8,939.3 636.0,937.6 637.3,935.7 638.7,933.8 640.0,931.9 641.3,930.0 642.7,928.1 644.0,926.2 645.2,924.5 646.4,922.8 647.6,921.1 648.8,919.4 649.9,917.7 651.1,916.1 652.3,914.4 653.5,912.7 654.7,911.0 655.7,909.1 656.8,907.2 657.8,905.3 658.9,903.3 659.9,901.4 660.9,899.5 662.0,897.6 663.0,895.7 664.1,894.0 665.2,892.3 666.3,890.7 667.4,889.0 668.6,887.3 669.7,885.6 670.8,883.9 671.9,882.2 673.0,880.6 674.4,879.0 675.7,877.5 677.1,876.0 678.5,874.5 679.9,872.9 681.2,871.4 682.6,869.9 684.0,868.4 685.3,866.9 686.7,865.3 687.9,863.7 689.1,862.0 690.4,860.4 691.6,858.7 692.8,857.0 694.0,855.4 695.3,853.7 696.5,852.0 697.7,850.4 699.2,848.7 700.7,847.0 702.2,845.3 703.8,843.7 705.3,842.0 706.8,840.3 708.3,838.6 709.6,837.0 711.0,835.5 712.3,833.9 713.6,832.4 715.0,830.8 716.3,829.2 717.6,827.7 718.9,826.1 720.3,824.6 721.6,823.0 723.1,821.5 724.5,820.0 726.0,818.4 727.5,816.9 728.9,815.4 730.4,813.8 731.8,812.3 733.3,810.8 735.2,810.0 737.2,809.2 739.1,808.3 741.1,807.5 743.0,806.7 745.0,805.9 747.0,805.0 748.9,804.1 750.9,803.1 752.8,802.2 754.8,801.3 756.7,800.4 758.7,799.8 760.6,799.2 762.6,798.6 764.6,798.1 766.5,797.5 768.5,796.9 770.8,796.9 773.2,796.9 775.5,796.9 777.9,796.9 780.2,796.9 782.2,797.7 784.1,798.5 786.1,799.2 788.1,800.0 790.0,800.8 792.0,801.6 794.3,801.9 796.7,802.2 799.0,802.6 801.4,802.9 803.7,803.2 805.7,804.4 807.6,805.7 809.6,806.9 811.6,808.1 813.5,809.4 815.5,810.6 817.5,811.9 819.4,813.1 821.4,814.4 823.3,815.6 825.2,816.9 827.2,818.1 828.9,819.3 830.6,820.4 832.3,821.6 833.9,822.8 835.6,824.0 837.3,825.1 839.0,826.3 840.8,827.3 842.5,828.4 844.3,829.4 846.0,830.4 847.8,831.4 849.5,832.5 851.3,833.5 853.0,834.7 854.8,835.8 856.5,837.0 858.3,838.1 860.0,839.3 861.8,840.4 863.5,841.6 865.3,842.7 867.0,843.9 869.0,844.9 870.9,845.9 872.9,846.9 874.8,847.8 876.8,848.8 878.7,849.8 880.6,850.8 882.6,851.8 884.6,852.8 886.5,853.8 888.5,854.7 890.5,855.7 892.4,856.7 894.4,857.6 896.3,858.6 898.3,859.6 900.0,860.8 901.8,862.0 903.5,863.3 905.3,864.5 907.0,865.7 908.8,866.9 910.5,868.2 912.3,869.4 914.0,870.6 915.7,871.8 917.5,873.0 919.2,874.2 920.9,875.4 922.7,876.7 924.4,877.9 926.1,879.1 927.9,880.3 929.6,881.5 931.2,882.9 932.7,884.3 934.3,885.7 935.9,887.1 937.5,888.5 939.0,890.0 940.6,891.4 942.2,892.8 943.7,894.2 945.3,895.6 946.9,897.0 948.4,898.4 950.0,899.8 951.6,901.2 953.1,902.7 954.7,904.1 956.3,905.5 957.9,906.9 959.4,908.3 961.0,909.7 962.4,911.2 963.8,912.8 965.2,914.3 966.6,915.8 968.1,917.3 969.5,918.9 970.9,920.4 972.3,921.9 973.7,923.5 975.1,925.0 976.5,926.5 977.9,928.1 979.4,929.6 980.8,931.1 982.2,932.6 983.6,934.2 985.0,935.7 986.7,937.0 988.5,938.2 990.2,939.5 992.0,940.8 993.7,942.0 995.5,943.3 997.2,944.6 999.0,945.8 1000.7,947.1 1002.4,948.4 1004.2,949.6 1005.9,950.9 1007.6,952.2 1009.4,953.4 1011.1,954.7 1012.8,956.0 1014.6,957.2 1016.3,958.5 1017.9,959.7 1019.6,960.8 1021.2,962.0 1022.9,963.1 1024.5,964.3 1026.2,965.5 1027.8,966.6 1029.5,967.8 1031.1,968.9 1032.8,970.1 1034.4,971.2 1036.1,972.4 1038.1,973.4 1040.1,974.4 1042.1,975.4 1044.1,976.4 1046.1,977.4 1048.1,978.4 1050.1,979.4 1052.1,980.4 1053.9,981.3 1055.7,982.2 1057.5,983.1 1059.3,984.0 1061.0,984.9 1062.8,985.8 1064.6,986.7 1066.4,987.6 1068.2,988.5 1070.0,989.6 1071.8,990.6 1073.5,991.7 1075.3,992.8 1077.1,993.8 1078.9,994.9 1080.6,996.0 1082.4,997.0 1084.2,998.1 1086.2,998.9 1088.2,999.7 1090.2,1000.5 1092.2,1001.3 1094.3,1002.1 1096.3,1002.9 1098.3,1003.7 1100.3,1004.5 1102.3,1005.5 1104.3,1006.5 1106.3,1007.5 1108.3,1008.5 1110.3,1009.5 1112.3,1010.5 1114.3,1011.5 1116.3,1012.5 1118.3,1013.3 1120.3,1014.1 1122.3,1014.9 1124.3,1015.8 1126.4,1016.6 1128.4,1017.4 1130.4,1018.2 1132.4,1019.0 1134.4,1020.0 1136.4,1021.0 1138.4,1022.0 1140.4,1023.0 1142.4,1024.0 1144.4,1025.0 1146.4,1026.0 1148.4,1027.0 1150.4,1027.8 1152.4,1028.6 1154.4,1029.4 1156.5,1030.2 1158.5,1031.0 1160.5,1031.8 1162.5,1032.6 1164.5,1033.4 1166.5,1034.2 1168.5,1035.0 1170.5,1035.8 1172.5,1036.6 1174.5,1037.4 1176.5,1038.2 1178.5,1039.0 1180.5,1039.8 1182.5,1040.4 1184.5,1041.0 1186.5,1041.6 1188.5,1042.2 1190.6,1042.8 1192.6,1043.4 1194.6,1044.0 1196.6,1044.6 1198.8,1044.8 1201.1,1045.1 1203.3,1045.3 1205.5,1045.5 1207.8,1045.8 1210.0,1046.0 1212.2,1046.2 1214.4,1046.4 1216.6,1046.6 1218.8,1046.8 1221.0,1047.0" fill="none" stroke="#ff0000" stroke-width="5.3" stroke-linejoin="round" stroke-linecap="butt"/>
<polyline points="134.0,1092.5 138.0,1093.0 144.5,1087.2 149.2,1081.0 155.4,1074.7 160.1,1068.4 164.8,1055.9 168.7,1045.0 172.6,1034.0 176.6,1023.0 179.7,1012.0 182.8,999.5 186.0,987.0 189.1,971.3 192.2,955.7 194.6,940.0 195.4,928.0 198.2,912.3 200.9,896.6 203.2,881.0 203.7,865.3 204.0,849.6 206.7,834.0 206.7,818.3 209.2,802.6 209.5,787.0 212.3,771.3 213.4,755.7 215.0,740.0 215.0,721.7 217.7,704.4 217.7,685.7 220.8,665.3 220.5,646.5 223.1,634.0 223.6,613.6 226.3,594.8 226.7,576.0 229.1,555.7 230.8,540.0 232.5,507.6 235.5,471.6 238.5,443.4 241.5,424.6 244.5,407.3 247.5,390.1 251.5,379.2 253.8,368.0 256.4,360.4 259.5,371.3 264.2,383.9 267.3,396.4 270.5,408.9 273.6,424.6 276.7,437.1 279.1,449.6 281.4,471.6 284.6,502.9 286.9,524.8 288.2,540.0 290.2,560.4 294.1,580.7 297.2,599.5 300.4,618.3 304.3,640.2 306.6,659.0 309.0,681.0 311.3,696.6 314.4,712.3 316.8,728.0 319.5,740.0 324.6,770.5 331.5,801.1 335.3,831.6 341.4,862.1 347.5,892.7 353.6,923.2 357.2,930.0 362.7,953.5 370.5,977.0 379.2,1000.5 390.1,1024.0 404.2,1042.8 418.3,1056.9 434.0,1064.7 452.8,1069.4 468.4,1067.8 484.1,1064.7 499.7,1058.4 511.3,1052.9 523.9,1047.3 536.4,1039.1 548.9,1030.3 558.3,1020.9 570.0,1011.6 586.7,996.3 602.3,981.0 615.7,965.8 624.9,950.5 636.0,935.4 644.0,924.0 654.7,908.7 663.0,893.4 673.0,878.2 686.7,862.9 697.7,847.9 708.3,836.1 721.6,820.5 733.3,808.3 745.0,803.4 756.7,797.9 768.5,794.4 780.2,794.4 792.0,799.1 803.7,800.7 815.5,808.1 827.2,815.6 839.0,823.8 851.3,831.0 867.0,841.4 882.6,849.3 898.3,857.1 914.0,868.1 929.6,879.0 945.3,893.1 961.0,907.2 985.0,933.2 1000.7,944.6 1016.3,956.0 1036.1,969.9 1052.1,977.9 1068.2,986.0 1084.2,995.6 1100.3,1002.0 1116.3,1010.0 1132.4,1016.5 1148.4,1024.5 1164.5,1030.9 1180.5,1037.3 1196.6,1042.1 1210.0,1043.5 1221.0,1044.5" fill="none" stroke="#ff0000" stroke-width="5.3" stroke-linejoin="round" stroke-linecap="butt"/>
<rect x="595.6" y="986.1" width="3" height="7.8" fill="#ff0000"/>
<rect x="1140.3" y="1021.2" width="3" height="9.3" fill="#ff0000"/>
<rect x="669.3" y="881.6" width="3" height="5.9" fill="#ff0000"/>
<rect x="1100.7" y="1002.9" width="3" height="7.7" fill="#ff0000"/>
<rect x="1001.7" y="946.4" width="3" height="7.4" fill="#ff0000"/>
<rect x="643.7" y="922.3" width="3" height="5.7" fill="#ff0000"/>
<rect x="506.9" y="1054.3" width="3" height="9.0" fill="#ff0000"/>
<rect x="776.6" y="794.4" width="3" height="7.7" fill="#ff0000"/>
<rect x="1101.6" y="1003.4" width="3" height="9.3" fill="#ff0000"/>
<rect x="1039.3" y="972.3" width="3" height="7.7" fill="#ff0000"/>
<rect x="1063.1" y="984.2" width="3" height="9.5" fill="#ff0000"/>
<rect x="955.8" y="903.8" width="3" height="10.2" fill="#ff0000"/>
<rect x="711.5" y="830.6" width="3" height="5.7" fill="#ff0000"/>
<rect x="504.0" y="1055.7" width="3" height="7.8" fill="#ff0000"/>
<rect x="487.5" y="1062.7" width="3" height="9.1" fill="#ff0000"/>
<rect x="767.0" y="794.4" width="3" height="8.9" fill="#ff0000"/>
<rect x="809.5" y="805.3" width="3" height="9.1" fill="#ff0000"/>
<rect x="905.1" y="862.9" width="3" height="6.6" fill="#ff0000"/>
<polygon points="251,383.5 253.5,368 256.5,357.5 258,357.5 260.5,361.5 263,370 265.8,378 262.8,384.5 257,384.5" fill="#ff0000"/>
<rect x="109" y="1079" width="5.4" height="8.6" fill="#0000ff"/><rect x="109" y="1103.5" width="3" height="2.5" fill="#0000ff"/><rect x="123.5" y="1103.5" width="3" height="2.5" fill="#0000ff"/>
<polyline points="134.0,1096.2 136.1,1096.0 138.2,1095.8 140.3,1094.5 142.4,1093.2 144.5,1091.9 146.4,1090.5 148.4,1089.2 150.4,1087.8 152.3,1086.4 154.2,1085.2 156.2,1084.0 158.2,1082.9 160.1,1081.7 161.4,1080.1 162.6,1078.6 163.9,1077.0 165.1,1075.5 166.4,1073.9 167.9,1072.0 169.5,1070.0 171.1,1068.1 172.6,1066.1 173.8,1064.1 174.9,1062.2 176.1,1060.2 177.3,1058.2 178.2,1056.3 179.2,1054.4 180.1,1052.6 181.1,1050.7 182.0,1048.8 182.9,1046.6 183.9,1044.4 184.8,1042.3 185.8,1040.1 186.7,1037.9 187.3,1035.9 187.8,1033.9 188.4,1031.9 189.0,1029.8 189.6,1027.8 190.1,1025.8 190.7,1023.8 191.1,1021.8 191.6,1019.8 192.0,1017.8 192.5,1015.7 192.9,1013.7 193.4,1011.7 193.8,1009.7 194.4,1007.5 195.0,1005.3 195.7,1003.1 196.3,1000.9 196.9,998.7 197.4,996.6 197.9,994.5 198.4,992.5 199.0,990.4 199.5,988.3 200.0,986.2 200.4,984.2 200.8,982.3 201.2,980.3 201.6,978.4 202.0,976.4 202.4,974.4 202.8,972.5 203.2,970.5 203.5,968.3 203.9,966.0 204.2,963.8 204.5,961.6 204.8,959.4 205.2,957.1 205.5,954.9 205.8,952.7 206.2,950.4 206.5,948.2 206.9,945.9 207.2,943.7 207.6,941.4 207.9,939.2 208.3,937.1 208.7,935.0 209.0,932.9 209.2,930.7 209.5,928.6 209.7,926.5 210.0,924.3 210.2,922.2 210.5,920.0 210.7,917.9 211.0,915.8 211.2,913.6 211.5,911.5 211.7,909.4 212.0,907.2 212.2,905.1 212.5,903.0 212.7,900.8 213.0,898.7 213.2,896.5 213.5,894.4 213.7,892.3 214.0,890.1 214.2,888.0 214.4,885.9 214.6,883.7 214.9,881.6 215.1,879.5 215.3,877.3 215.5,875.2 215.7,873.0 215.9,870.9 216.2,868.8 216.4,866.6 216.6,864.5 216.8,862.4 217.0,860.3 217.2,858.2 217.4,856.2 217.6,854.1 217.8,852.0 218.0,849.9 218.3,847.8 218.5,845.7 218.7,843.6 218.9,841.5 219.1,839.5 219.3,837.4 219.5,835.3 219.7,833.2 219.9,831.1 220.2,828.9 220.4,826.8 220.7,824.7 220.9,822.5 221.2,820.4 221.4,818.2 221.7,816.1 221.9,814.0 222.2,811.8 222.4,809.7 222.6,807.6 222.8,805.5 223.0,803.4 223.1,801.3 223.3,799.2 223.5,797.1 223.7,795.0 223.9,792.9 224.1,790.8 224.3,788.7 224.5,786.6 224.6,784.5 224.8,782.4 225.0,780.3 225.2,778.2 225.4,776.1 225.5,774.1 225.7,772.0 225.9,770.0 226.0,767.9 226.2,765.9 226.3,763.8 226.5,761.8 226.7,759.7 226.8,757.7 227.0,755.6 227.2,753.6 227.3,751.5 227.5,749.5 227.6,747.4 227.8,745.4 228.0,743.3 228.1,741.3 228.3,739.2 229.1,737.2 229.9,735.2 230.7,733.2 231.4,731.2 232.2,729.2 233.0,727.2 233.5,725.2 234.0,723.2 234.5,721.2 235.0,719.2 235.5,717.2 236.0,715.2 236.2,713.2 236.5,711.1 236.7,709.1 236.9,707.0 237.1,705.0 237.4,702.9 237.6,700.9 237.8,698.8 238.0,696.8 238.3,694.7 238.5,692.7 238.6,690.6 238.7,688.5 238.8,686.4 238.9,684.3 239.0,682.2 239.1,680.2 239.2,678.1 239.3,676.0 239.4,673.9 239.5,671.8 239.5,669.7 239.6,667.6 239.7,665.5 239.8,663.4 239.9,661.3 240.0,659.3 240.1,657.2 240.2,655.1 240.3,653.0 240.4,650.9 240.5,648.8 240.8,646.7 241.0,644.6 241.2,642.6 241.5,640.5 241.8,638.4 242.0,636.3 242.2,634.2 242.5,632.1 242.8,630.1 243.0,628.0 243.2,625.9 243.5,623.8 243.9,621.6 244.3,619.4 244.7,617.3 245.1,615.1 245.4,612.9 245.8,610.7 246.2,608.6 246.6,606.4 247.0,604.2 247.3,602.2 247.7,600.1 248.0,598.1 248.3,596.0 248.7,594.0 249.0,591.9 249.4,589.8 249.8,587.7 250.2,585.6 250.7,583.5 251.1,581.4 251.5,579.3 252.0,577.2 252.5,575.1 253.0,573.1 253.5,571.0 254.0,568.9 254.5,566.8 255.2,564.7 255.9,562.6 256.6,560.4 257.3,558.3 258.0,556.2 258.9,554.3 259.8,552.4 260.6,550.5 261.5,548.6 264.1,547.2 266.7,545.7 268.4,547.2 270.2,548.7 271.9,550.2 273.7,551.7 274.6,553.6 275.6,555.5 276.5,557.4 277.5,559.3 278.4,561.2 278.9,563.3 279.4,565.5 279.9,567.6 280.4,569.7 280.8,571.8 281.3,574.0 281.8,576.1 282.3,578.2 282.8,580.2 283.3,582.2 283.8,584.1 284.3,586.1 284.8,588.1 285.3,590.0 285.8,592.0 286.3,594.0 286.6,596.2 286.9,598.4 287.2,600.6 287.5,602.8 287.8,605.0 288.7,607.1 289.6,609.2 290.6,611.2 291.5,613.3 292.4,615.4 293.3,617.5 293.9,619.5 294.5,621.4 295.1,623.4 295.6,625.4 296.2,627.3 296.8,629.3 297.4,631.2 298.0,633.2 298.5,635.2 299.0,637.1 299.5,639.1 299.9,641.0 300.4,642.9 300.9,644.9 301.4,646.8 301.9,648.8 302.4,650.8 302.9,652.7 303.4,654.7 303.9,656.6 304.3,658.6 304.8,660.6 305.3,662.5 305.8,664.5 306.4,666.4 307.0,668.4 307.6,670.4 308.1,672.3 308.7,674.3 309.3,676.2 309.9,678.2 310.5,680.2 311.2,682.1 311.9,684.1 312.6,686.0 313.2,688.0 313.9,689.9 314.6,691.9 315.3,693.8 316.0,695.8 316.5,697.7 317.0,699.7 317.5,701.6 317.9,703.6 318.4,705.6 318.9,707.5 319.4,709.5 319.9,711.4 320.4,713.4 320.9,715.4 321.4,717.3 321.9,719.3 322.3,721.2 322.8,723.2 323.3,725.2 323.8,727.1 324.2,729.1 324.7,731.1 325.1,733.1 325.6,735.1 326.1,737.1 326.5,739.1 327.0,741.2 327.5,743.2 328.1,745.3 328.6,747.3 329.1,749.4 329.6,751.4 330.1,753.5 330.7,755.5 331.2,757.6 331.7,759.6 332.2,761.7 332.7,763.7 333.3,765.8 333.8,767.9 334.3,769.9 334.7,772.0 335.2,774.1 335.6,776.1 336.0,778.2 336.5,780.3 336.9,782.4 337.3,784.5 337.8,786.5 338.2,788.6 338.6,790.7 339.1,792.8 339.5,794.8 339.9,796.9 340.4,799.0 340.8,801.1 341.2,803.1 341.6,805.2 342.0,807.3 342.5,809.3 342.9,811.4 343.3,813.5 343.7,815.5 344.1,817.6 344.5,819.7 344.9,821.7 345.3,823.8 345.8,825.9 346.2,827.9 346.6,830.0 347.0,832.1 347.4,834.1 347.7,836.2 348.1,838.3 348.5,840.4 348.8,842.5 349.2,844.5 349.6,846.6 349.9,848.7 350.3,850.8 350.6,852.8 351.0,854.9 351.4,857.0 351.7,859.1 352.1,861.2 352.6,863.2 353.2,865.2 353.7,867.3 354.2,869.3 354.7,871.3 355.3,873.4 355.8,875.4 356.3,877.5 356.8,879.5 357.4,881.5 357.9,883.6 358.4,885.6 358.9,887.7 359.5,889.7 360.0,891.7 360.4,893.8 360.9,895.8 361.3,897.8 361.8,899.9 362.2,901.9 362.6,903.9 363.1,906.0 363.5,908.0 364.0,910.0 364.4,912.0 364.8,914.1 365.3,916.1 365.7,918.1 366.2,920.2 366.6,922.2 367.7,924.5 368.7,926.7 369.8,929.0 370.4,931.0 371.0,932.9 371.6,934.9 372.1,936.8 372.7,938.8 373.3,940.7 373.9,942.7 374.5,944.7 375.1,946.6 375.6,948.6 376.2,950.5 376.8,952.5 377.5,954.4 378.2,956.4 378.9,958.3 379.7,960.3 380.4,962.3 381.1,964.2 381.8,966.2 382.5,968.1 383.2,970.1 384.0,972.0 384.7,974.0 385.4,976.0 386.1,977.9 386.8,979.9 387.5,981.8 388.3,983.8 389.0,985.7 389.7,987.7 390.4,989.7 391.1,991.6 391.9,993.6 392.6,995.5 393.3,997.5 394.0,999.4 394.9,1001.2 395.8,1003.0 396.7,1004.8 397.6,1006.7 398.5,1008.5 399.4,1010.3 400.4,1012.1 401.3,1013.9 402.2,1015.7 403.1,1017.5 404.0,1019.3 404.9,1021.1 405.8,1022.9 407.1,1024.6 408.4,1026.3 409.6,1028.0 410.9,1029.7 412.2,1031.4 413.5,1033.1 414.8,1034.8 416.1,1036.5 417.3,1038.2 418.6,1040.0 419.9,1041.7 421.5,1043.0 423.0,1044.4 424.6,1045.8 426.2,1047.2 427.7,1048.6 429.3,1050.0 430.9,1051.3 432.4,1052.7 434.0,1054.1 435.9,1055.0 437.9,1055.9 439.9,1056.7 441.8,1057.6 443.8,1058.5 445.7,1059.3 447.7,1060.2 449.6,1061.1 451.8,1061.2 454.1,1061.3 456.3,1061.4 458.6,1061.5 460.8,1061.6 463.1,1061.7 465.3,1061.8 467.5,1061.5 469.8,1061.3 472.0,1061.1 474.3,1060.8 476.5,1060.6 478.8,1060.3 481.0,1060.1 483.2,1060.0 485.5,1059.8 487.8,1059.7 490.0,1059.5 492.0,1058.6 494.0,1057.7 496.0,1056.8 498.0,1055.9 500.0,1055.0 502.0,1054.0 504.0,1053.0 506.0,1052.0 508.0,1051.0 510.0,1050.0 512.0,1048.9 514.0,1047.8 516.0,1046.7 518.0,1045.6 520.0,1044.5 522.0,1043.4 523.9,1042.0 525.8,1040.7 527.6,1039.3 529.5,1037.9 531.4,1036.5 533.3,1035.3 535.2,1034.0 537.0,1032.8 538.9,1031.5 540.8,1030.2 542.7,1029.0 544.2,1027.6 545.8,1026.3 547.4,1024.9 548.9,1023.6 550.5,1022.2 552.0,1020.8 553.6,1019.1 555.2,1017.4 556.8,1015.7 558.4,1013.9 560.0,1012.2 561.6,1010.7 563.2,1009.2 564.8,1007.8 566.3,1006.3 567.9,1004.8 569.5,1003.3 571.1,1001.8 572.7,1000.3 574.2,998.9 575.8,997.4 577.4,995.9 579.0,994.4 580.5,992.9 582.0,991.3 583.5,989.8 585.0,988.3 586.5,986.7 588.0,985.2 589.5,983.6 591.0,982.1 592.5,980.6 594.0,979.0 595.3,977.3 596.7,975.6 598.0,973.9 599.4,972.2 600.7,970.6 602.1,968.9 603.4,967.2 604.8,965.5 606.1,963.8 607.3,962.1 608.4,960.4 609.6,958.7 610.7,956.9 611.9,955.2 613.0,953.5 614.2,951.8 615.3,950.1 616.5,948.4 617.7,946.7 618.9,945.0 620.2,943.3 621.4,941.6 622.6,939.9 623.8,938.2 625.1,936.6 626.3,934.9 627.5,933.2 628.8,931.5 630.0,929.9 631.3,928.3 632.6,926.7 633.9,925.1 635.1,923.4 636.4,921.8 637.6,920.1 638.8,918.4 639.9,916.7 641.1,915.0 642.3,913.3 643.5,911.6 644.6,909.9 645.8,908.2 647.0,906.5 647.9,904.5 648.8,902.6 649.6,900.7 650.5,898.8 651.4,896.9 652.2,895.0 653.1,893.0 654.0,891.1 655.2,889.4 656.4,887.7 657.7,886.0 658.9,884.4 660.1,882.7 661.3,881.0 662.6,879.3 663.8,877.6 665.0,875.9 666.3,874.2 667.6,872.5 668.8,870.8 670.1,869.0 671.4,867.3 672.7,865.6 673.9,863.9 675.2,862.2 676.5,860.5 677.4,858.6 678.4,856.7 679.3,854.8 680.2,852.9 681.2,851.1 682.1,849.2 683.1,847.3 684.0,845.4 685.1,843.7 686.2,842.0 687.3,840.3 688.5,838.7 689.6,837.0 690.7,835.3 691.8,833.6 692.9,831.9 694.0,830.2 695.1,828.4 696.2,826.7 697.2,824.9 698.3,823.2 699.4,821.5 700.5,819.7 701.6,818.0 702.9,816.4 704.2,814.9 705.5,813.3 706.8,811.7 708.0,810.1 709.3,808.6 710.6,807.0 711.9,805.4 713.2,803.9 714.5,802.3 715.8,800.7 717.1,799.2 718.4,797.6 719.7,796.1 721.0,794.5 722.3,792.9 723.6,791.4 724.9,789.8 726.2,788.3 727.5,786.7 728.8,785.0 730.0,783.3 731.2,781.6 732.5,779.9 733.8,778.2 735.0,776.5 736.7,774.9 738.3,773.3 740.0,771.7 741.7,770.1 743.3,768.5 745.0,766.9 747.0,766.2 748.9,765.4 750.9,764.7 752.8,764.0 754.8,763.2 756.7,762.5 758.7,761.3 760.6,760.2 762.6,759.0 764.6,757.8 766.5,756.7 768.5,755.5 770.8,755.3 773.2,755.0 775.5,754.8 777.9,754.5 780.2,754.3 782.2,754.9 784.1,755.6 786.1,756.2 788.1,756.9 790.0,757.6 792.0,758.2 794.3,758.3 796.7,758.3 799.0,758.4 801.4,758.4 803.7,758.5 805.7,759.5 807.6,760.5 809.6,761.5 811.6,762.5 813.5,763.5 815.5,764.5 817.8,765.7 820.0,766.9 821.7,768.1 823.5,769.3 825.2,770.6 827.0,771.8 828.7,773.0 830.5,774.2 832.2,775.5 834.0,776.7 835.7,777.9 837.4,778.9 839.2,780.0 840.9,781.0 842.6,782.1 844.4,783.1 846.1,784.2 847.8,785.2 849.6,786.3 851.3,787.3 853.0,788.3 854.8,789.4 856.5,790.4 858.3,791.5 860.0,792.5 861.8,793.6 863.5,794.6 865.3,795.7 867.0,796.7 868.7,797.7 870.5,798.8 872.2,799.8 873.9,800.9 875.7,801.9 877.4,803.0 879.1,804.0 880.9,805.1 882.6,806.1 884.3,807.1 886.1,808.2 887.8,809.2 889.6,810.2 891.3,811.3 893.1,812.3 894.8,813.3 896.6,814.4 898.3,815.4 900.0,816.4 901.8,817.5 903.5,818.5 905.3,819.6 907.0,820.6 908.8,821.7 910.5,822.7 912.3,823.8 914.0,824.8 915.6,826.1 917.1,827.3 918.7,828.6 920.2,829.8 921.8,831.1 923.4,832.4 924.9,833.6 926.5,834.9 928.0,836.1 929.6,837.4 931.0,838.8 932.5,840.2 933.9,841.7 935.3,843.1 936.7,844.5 938.2,845.9 939.6,847.3 941.0,848.7 942.4,850.2 943.9,851.6 945.3,853.0 946.7,854.6 948.2,856.1 949.6,857.7 951.0,859.3 952.4,860.9 953.9,862.4 955.3,864.0 956.7,865.6 958.1,867.2 959.6,868.7 961.0,870.3 962.4,871.9 963.8,873.4 965.3,875.0 966.7,876.6 968.1,878.1 969.5,879.7 970.9,881.2 972.3,882.8 973.8,884.4 975.2,885.9 976.6,887.5 978.0,889.1 979.5,890.6 980.9,892.2 982.3,893.8 983.7,895.3 985.2,896.9 986.6,898.4 988.0,900.0 989.4,901.6 990.9,903.1 992.3,904.7 993.9,906.1 995.4,907.5 997.0,908.9 998.5,910.3 1000.1,911.8 1001.7,913.2 1003.2,914.6 1004.8,916.0 1006.3,917.4 1007.9,918.8 1009.6,920.2 1011.4,921.7 1013.1,923.1 1014.8,924.6 1016.5,926.0 1018.3,927.5 1020.0,928.9 1021.8,930.1 1023.6,931.4 1025.4,932.6 1027.2,933.9 1028.9,935.1 1030.7,936.4 1032.5,937.6 1034.3,938.9 1036.1,940.1 1037.9,941.2 1039.7,942.2 1041.4,943.3 1043.2,944.4 1045.0,945.4 1046.8,946.5 1048.5,947.6 1050.3,948.6 1052.1,949.7 1053.9,950.8 1055.7,951.9 1057.5,952.9 1059.3,954.0 1061.0,955.1 1062.8,956.2 1064.6,957.2 1066.4,958.3 1068.2,959.4 1070.0,960.5 1071.8,961.5 1073.5,962.6 1075.3,963.7 1077.1,964.7 1078.9,965.8 1080.6,966.9 1082.4,967.9 1084.2,969.0 1086.2,970.0 1088.2,971.0 1090.2,972.0 1092.2,973.0 1094.3,974.0 1096.3,975.0 1098.3,976.0 1100.3,977.0 1102.1,978.1 1103.9,979.2 1105.6,980.2 1107.4,981.3 1109.2,982.4 1111.0,983.5 1112.7,984.5 1114.5,985.6 1116.3,986.7 1118.1,987.8 1119.9,988.8 1121.7,989.9 1123.5,991.0 1125.2,992.0 1127.0,993.1 1128.8,994.2 1130.6,995.2 1132.4,996.3 1134.4,997.3 1136.4,998.3 1138.4,999.3 1140.4,1000.3 1142.4,1001.3 1144.4,1002.3 1146.4,1003.3 1148.4,1004.3 1150.2,1005.4 1152.0,1006.5 1153.8,1007.5 1155.6,1008.6 1157.3,1009.7 1159.1,1010.8 1160.9,1011.8 1162.7,1012.9 1164.5,1014.0 1166.5,1015.0 1168.5,1016.0 1170.5,1017.0 1172.5,1018.0 1174.5,1019.0 1176.5,1020.0 1178.5,1021.0 1180.5,1022.0 1182.5,1022.8 1184.5,1023.6 1186.5,1024.4 1188.5,1025.2 1190.6,1026.0 1192.6,1026.8 1194.6,1027.6 1196.6,1028.4 1198.5,1029.0 1200.4,1029.6 1202.3,1030.2 1204.3,1030.7 1206.2,1031.3 1208.1,1031.9 1210.0,1032.5 1212.2,1032.9 1214.4,1033.3 1216.6,1033.7 1218.8,1034.1 1221.0,1034.5" fill="none" stroke="#0000ff" stroke-width="5.3" stroke-linejoin="round" stroke-linecap="butt"/>
<polyline points="134.0,1097.8 136.1,1097.6 138.2,1097.4 140.3,1096.1 142.4,1094.8 144.5,1093.5 146.4,1092.1 148.4,1090.8 150.4,1089.4 152.3,1088.0 154.2,1086.8 156.2,1085.6 158.2,1084.5 160.1,1083.3 161.4,1081.7 162.6,1080.2 163.9,1078.6 165.1,1077.1 166.4,1075.5 167.9,1073.5 169.5,1071.6 171.1,1069.7 172.6,1067.7 173.8,1065.7 174.9,1063.8 176.1,1061.8 177.3,1059.8 178.2,1057.9 179.2,1056.0 180.1,1054.2 181.1,1052.3 182.0,1050.4 182.9,1048.2 183.9,1046.0 184.8,1043.9 185.8,1041.7 186.7,1039.5 187.3,1037.5 187.8,1035.5 188.4,1033.5 189.0,1031.4 189.6,1029.4 190.1,1027.4 190.7,1025.4 191.1,1023.4 191.6,1021.4 192.0,1019.4 192.5,1017.3 192.9,1015.3 193.4,1013.3 193.8,1011.3 194.4,1009.1 195.0,1006.9 195.7,1004.7 196.3,1002.5 196.9,1000.3 197.4,998.2 197.9,996.1 198.4,994.0 199.0,992.0 199.5,989.9 200.0,987.8 200.4,985.8 200.8,983.9 201.2,981.9 201.6,979.9 202.0,978.0 202.4,976.0 202.8,974.1 203.2,972.1 203.5,969.9 203.9,967.6 204.2,965.4 204.5,963.2 204.8,961.0 205.2,958.7 205.5,956.5 205.8,954.3 206.2,952.0 206.5,949.8 206.9,947.5 207.2,945.3 207.6,943.0 207.9,940.8 208.3,938.7 208.7,936.6 209.0,934.5 209.2,932.3 209.5,930.2 209.7,928.1 210.0,925.9 210.2,923.8 210.5,921.6 210.7,919.5 211.0,917.4 211.2,915.2 211.5,913.1 211.7,911.0 212.0,908.8 212.2,906.7 212.5,904.6 212.7,902.4 213.0,900.3 213.2,898.1 213.5,896.0 213.7,893.9 214.0,891.7 214.2,889.6 214.4,887.5 214.6,885.3 214.9,883.2 215.1,881.1 215.3,878.9 215.5,876.8 215.7,874.6 215.9,872.5 216.2,870.4 216.4,868.2 216.6,866.1 216.8,864.0 217.0,861.9 217.2,859.8 217.4,857.8 217.6,855.7 217.8,853.6 218.0,851.5 218.3,849.4 218.5,847.3 218.7,845.2 218.9,843.1 219.1,841.1 219.3,839.0 219.5,836.9 219.7,834.8 219.9,832.7 220.2,830.5 220.4,828.4 220.7,826.3 220.9,824.1 221.2,822.0 221.4,819.8 221.7,817.7 221.9,815.6 222.2,813.4 222.4,811.3 222.6,809.2 222.8,807.1 223.0,805.0 223.1,802.9 223.3,800.8 223.5,798.7 223.7,796.6 223.9,794.5 224.1,792.4 224.3,790.3 224.5,788.2 224.6,786.1 224.8,784.0 225.0,781.9 225.2,779.8 225.4,777.7 225.5,775.7 225.7,773.6 225.9,771.6 226.0,769.5 226.2,767.5 226.3,765.4 226.5,763.4 226.7,761.3 226.8,759.3 227.0,757.2 227.2,755.2 227.3,753.1 227.5,751.1 227.6,749.0 227.8,747.0 228.0,744.9 228.1,742.9 228.3,740.8 229.1,738.8 229.9,736.8 230.7,734.8 231.4,732.8 232.2,730.8 233.0,728.8 233.5,726.8 234.0,724.8 234.5,722.8 235.0,720.8 235.5,718.8 236.0,716.8 236.2,714.8 236.5,712.7 236.7,710.7 236.9,708.6 237.1,706.6 237.4,704.5 237.6,702.5 237.8,700.4 238.0,698.4 238.3,696.3 238.5,694.3 238.6,692.2 238.7,690.1 238.8,688.0 238.9,685.9 239.0,683.8 239.1,681.8 239.2,679.7 239.3,677.6 239.4,675.5 239.5,673.4 239.5,671.3 239.6,669.2 239.7,667.1 239.8,665.0 239.9,662.9 240.0,660.9 240.1,658.8 240.2,656.7 240.3,654.6 240.4,652.5 240.5,650.4 240.8,648.3 241.0,646.2 241.2,644.1 241.5,642.1 241.8,640.0 242.0,637.9 242.2,635.8 242.5,633.7 242.8,631.6 243.0,629.6 243.2,627.5 243.5,625.4 243.9,623.2 244.3,621.0 244.7,618.9 245.1,616.7 245.4,614.5 245.8,612.3 246.2,610.2 246.6,608.0 247.0,605.8 247.3,603.8 247.7,601.7 248.0,599.6 248.3,597.6 248.7,595.5 249.0,593.5 249.4,591.4 249.8,589.3 250.2,587.2 250.7,585.1 251.1,583.0 251.5,580.9 252.0,578.8 252.5,576.7 253.0,574.6 253.5,572.6 254.0,570.5 254.5,568.4 255.2,566.3 255.9,564.2 256.6,562.0 257.3,559.9 258.0,557.8 258.9,555.9 259.8,554.0 260.6,552.1 261.5,550.2 264.1,548.8 266.7,547.3 268.4,548.8 270.2,550.3 271.9,551.8 273.7,553.3 274.6,555.2 275.6,557.1 276.5,559.0 277.5,560.9 278.4,562.8 278.9,564.9 279.4,567.0 279.9,569.2 280.4,571.3 280.8,573.4 281.3,575.5 281.8,577.7 282.3,579.8 282.8,581.8 283.3,583.8 283.8,585.7 284.3,587.7 284.8,589.7 285.3,591.6 285.8,593.6 286.3,595.6 286.6,597.8 286.9,600.0 287.2,602.2 287.5,604.4 287.8,606.6 288.7,608.7 289.6,610.8 290.6,612.8 291.5,614.9 292.4,617.0 293.3,619.1 293.9,621.1 294.5,623.0 295.1,625.0 295.6,626.9 296.2,628.9 296.8,630.9 297.4,632.8 298.0,634.8 298.5,636.8 299.0,638.7 299.5,640.6 299.9,642.6 300.4,644.6 300.9,646.5 301.4,648.5 301.9,650.4 302.4,652.4 302.9,654.3 303.4,656.3 303.9,658.3 304.3,660.2 304.8,662.2 305.3,664.2 305.8,666.1 306.4,668.1 307.0,670.0 307.6,672.0 308.1,674.0 308.7,675.9 309.3,677.9 309.9,679.9 310.5,681.8 311.2,683.8 311.9,685.7 312.6,687.7 313.2,689.6 313.9,691.6 314.6,693.5 315.3,695.5 316.0,697.4 316.5,699.4 317.0,701.4 317.5,703.3 317.9,705.3 318.4,707.3 318.9,709.2 319.4,711.2 319.9,713.2 320.4,715.1 320.9,717.1 321.4,719.0 321.9,721.0 322.3,723.0 322.8,724.9 323.3,726.9 323.8,728.9 324.2,730.9 324.7,732.9 325.1,734.9 325.6,736.9 326.1,738.9 326.5,740.9 327.0,742.9 327.5,745.0 328.1,747.0 328.6,749.1 329.1,751.1 329.6,753.2 330.1,755.3 330.7,757.3 331.2,759.4 331.7,761.4 332.2,763.5 332.7,765.5 333.3,767.6 333.8,769.6 334.3,771.7 334.7,773.8 335.2,775.9 335.6,777.9 336.0,780.0 336.5,782.1 336.9,784.2 337.3,786.3 337.8,788.3 338.2,790.4 338.6,792.5 339.1,794.6 339.5,796.7 339.9,798.8 340.4,800.8 340.8,802.9 341.2,805.0 341.6,807.1 342.0,809.1 342.5,811.2 342.9,813.3 343.3,815.3 343.7,817.4 344.1,819.5 344.5,821.5 344.9,823.6 345.3,825.7 345.8,827.7 346.2,829.8 346.6,831.9 347.0,833.9 347.4,836.0 347.7,838.1 348.1,840.2 348.5,842.3 348.8,844.3 349.2,846.4 349.6,848.5 349.9,850.6 350.3,852.7 350.6,854.7 351.0,856.8 351.4,858.9 351.7,861.0 352.1,863.0 352.6,865.1 353.2,867.1 353.7,869.2 354.2,871.2 354.7,873.3 355.3,875.3 355.8,877.3 356.3,879.4 356.8,881.4 357.4,883.5 357.9,885.5 358.4,887.5 358.9,889.6 359.5,891.6 360.0,893.7 360.4,895.7 360.9,897.7 361.3,899.8 361.8,901.8 362.2,903.8 362.6,905.9 363.1,907.9 363.5,909.9 364.0,912.0 364.4,914.0 364.8,916.1 365.3,918.1 365.7,920.1 366.2,922.2 366.6,924.2 367.7,926.5 368.7,928.7 369.8,931.0 370.4,933.0 371.0,934.9 371.6,936.9 372.1,938.8 372.7,940.8 373.3,942.8 373.9,944.7 374.5,946.7 375.1,948.6 375.6,950.6 376.2,952.6 376.8,954.5 377.5,956.5 378.2,958.4 378.9,960.4 379.7,962.4 380.4,964.3 381.1,966.3 381.8,968.2 382.5,970.2 383.2,972.2 384.0,974.1 384.7,976.1 385.4,978.0 386.1,980.0 386.8,982.0 387.5,983.9 388.3,985.9 389.0,987.8 389.7,989.8 390.4,991.8 391.1,993.7 391.9,995.7 392.6,997.6 393.3,999.6 394.0,1001.6 394.9,1003.4 395.8,1005.2 396.7,1007.0 397.6,1008.8 398.5,1010.6 399.4,1012.4 400.4,1014.2 401.3,1016.1 402.2,1017.9 403.1,1019.7 404.0,1021.5 404.9,1023.3 405.8,1025.1 407.1,1026.8 408.4,1028.5 409.6,1030.2 410.9,1032.0 412.2,1033.7 413.5,1035.4 414.8,1037.1 416.1,1038.8 417.3,1040.5 418.6,1042.2 419.9,1043.9 421.5,1045.3 423.0,1046.7 424.6,1048.1 426.2,1049.5 427.7,1050.9 429.3,1052.3 430.9,1053.7 432.4,1055.1 434.0,1056.5 435.9,1057.4 437.9,1058.2 439.9,1059.1 441.8,1060.0 443.8,1060.9 445.7,1061.8 447.7,1062.7 449.6,1063.5 451.8,1063.7 454.1,1063.8 456.3,1063.9 458.6,1064.0 460.8,1064.2 463.1,1064.3 465.3,1064.4 467.5,1064.2 469.8,1064.0 472.0,1063.8 474.3,1063.6 476.5,1063.3 478.8,1063.1 481.0,1062.9 483.2,1062.8 485.5,1062.7 487.8,1062.6 490.0,1062.5 492.0,1061.6 494.0,1060.7 496.0,1059.8 498.0,1058.9 500.0,1058.0 502.0,1057.0 504.0,1056.0 506.0,1055.0 508.0,1054.0 510.0,1053.0 512.0,1052.1 514.0,1051.0 516.0,1049.9 518.0,1048.8 520.0,1047.7 522.0,1046.6 523.9,1045.3 525.8,1043.9 527.6,1042.6 529.5,1041.2 531.4,1039.9 533.3,1038.6 535.2,1037.4 537.0,1036.1 538.9,1034.9 540.8,1033.7 542.7,1032.4 544.2,1031.1 545.8,1029.7 547.4,1028.4 548.9,1027.0 550.5,1025.7 552.0,1024.4 553.6,1022.6 555.2,1020.9 556.8,1019.2 558.4,1017.5 560.0,1015.8 561.6,1014.3 563.2,1012.9 564.8,1011.4 566.3,1009.9 567.9,1008.5 569.5,1007.0 571.1,1005.5 572.7,1004.1 574.2,1002.6 575.8,1001.1 577.4,999.7 579.0,998.2 580.5,996.7 582.0,995.1 583.5,993.6 585.0,992.1 586.5,990.6 588.0,989.1 589.5,987.5 591.0,986.0 592.5,984.5 594.0,983.0 595.3,981.3 596.7,979.6 598.0,977.9 599.4,976.2 600.7,974.6 602.1,972.9 603.4,971.2 604.8,969.5 606.1,967.8 607.3,966.1 608.4,964.4 609.6,962.7 610.7,961.1 611.9,959.4 613.0,957.7 614.2,956.0 615.3,954.3 616.5,952.6 617.7,950.9 618.9,949.2 620.2,947.5 621.4,945.9 622.6,944.2 623.8,942.5 625.1,940.8 626.3,939.1 627.5,937.4 628.8,935.8 630.0,934.2 631.3,932.6 632.6,931.0 633.9,929.4 635.1,927.8 636.4,926.2 637.6,924.5 638.8,922.8 639.9,921.1 641.1,919.4 642.3,917.7 643.5,916.0 644.6,914.3 645.8,912.6 647.0,910.9 647.9,909.0 648.8,907.1 649.6,905.2 650.5,903.3 651.4,901.4 652.2,899.5 653.1,897.6 654.0,895.7 655.2,894.0 656.4,892.3 657.7,890.6 658.9,888.9 660.1,887.3 661.3,885.6 662.6,883.9 663.8,882.2 665.0,880.5 666.3,878.8 667.6,877.1 668.8,875.4 670.1,873.8 671.4,872.1 672.7,870.4 673.9,868.7 675.2,867.0 676.5,865.3 677.4,863.4 678.4,861.5 679.3,859.6 680.2,857.8 681.2,855.9 682.1,854.0 683.1,852.1 684.0,850.2 685.1,848.6 686.2,846.9 687.3,845.2 688.5,843.6 689.6,841.9 690.7,840.2 691.8,838.6 692.9,836.8 694.0,835.1 695.1,833.4 696.2,831.6 697.2,829.9 698.3,828.2 699.4,826.5 700.5,824.7 701.6,823.0 702.9,821.4 704.2,819.9 705.5,818.3 706.8,816.7 708.0,815.1 709.3,813.6 710.6,812.0 711.9,810.4 713.2,808.9 714.5,807.3 715.8,805.7 717.1,804.2 718.4,802.6 719.7,801.1 721.0,799.5 722.3,797.9 723.6,796.4 724.9,794.8 726.2,793.3 727.5,791.7 728.8,790.0 730.0,788.3 731.2,786.6 732.5,784.9 733.8,783.2 735.0,781.5 736.7,779.9 738.3,778.3 740.0,776.7 741.7,775.1 743.3,773.5 745.0,771.9 747.0,771.2 748.9,770.4 750.9,769.7 752.8,769.0 754.8,768.2 756.7,767.5 758.7,766.3 760.6,765.2 762.6,764.0 764.6,762.8 766.5,761.7 768.5,760.5 770.8,760.3 773.2,760.0 775.5,759.8 777.9,759.5 780.2,759.3 782.2,759.9 784.1,760.6 786.1,761.2 788.1,761.9 790.0,762.6 792.0,763.2 794.3,763.3 796.7,763.3 799.0,763.4 801.4,763.4 803.7,763.5 805.7,764.5 807.6,765.5 809.6,766.5 811.6,767.5 813.5,768.5 815.5,769.5 817.8,770.7 820.0,771.9 821.7,773.1 823.5,774.3 825.2,775.6 827.0,776.8 828.7,778.0 830.5,779.2 832.2,780.5 834.0,781.7 835.7,782.9 837.4,783.9 839.2,785.0 840.9,786.0 842.6,787.1 844.4,788.1 846.1,789.2 847.8,790.2 849.6,791.3 851.3,792.3 853.0,793.3 854.8,794.4 856.5,795.4 858.3,796.5 860.0,797.5 861.8,798.6 863.5,799.6 865.3,800.7 867.0,801.7 868.7,802.7 870.5,803.8 872.2,804.8 873.9,805.9 875.7,806.9 877.4,808.0 879.1,809.0 880.9,810.1 882.6,811.1 884.3,812.1 886.1,813.2 887.8,814.2 889.6,815.2 891.3,816.3 893.1,817.3 894.8,818.3 896.6,819.4 898.3,820.4 900.0,821.4 901.8,822.5 903.5,823.5 905.3,824.6 907.0,825.6 908.8,826.7 910.5,827.7 912.3,828.8 914.0,829.8 915.6,831.1 917.1,832.3 918.7,833.6 920.2,834.8 921.8,836.1 923.4,837.4 924.9,838.6 926.5,839.9 928.0,841.1 929.6,842.4 931.0,843.8 932.5,845.2 933.9,846.7 935.3,848.1 936.7,849.5 938.2,850.9 939.6,852.3 941.0,853.7 942.4,855.2 943.9,856.6 945.3,858.0 946.7,859.6 948.2,861.1 949.6,862.7 951.0,864.3 952.4,865.9 953.9,867.4 955.3,869.0 956.7,870.6 958.1,872.2 959.6,873.7 961.0,875.3 962.4,876.9 963.8,878.4 965.3,880.0 966.7,881.6 968.1,883.1 969.5,884.7 970.9,886.2 972.3,887.8 973.8,889.4 975.2,890.9 976.6,892.5 978.0,894.1 979.5,895.6 980.9,897.2 982.3,898.8 983.7,900.3 985.2,901.9 986.6,903.4 988.0,905.0 989.4,906.6 990.9,908.1 992.3,909.7 993.9,911.1 995.4,912.5 997.0,913.9 998.5,915.3 1000.1,916.8 1001.7,918.2 1003.2,919.6 1004.8,921.0 1006.3,922.4 1007.9,923.8 1009.6,925.2 1011.4,926.7 1013.1,928.1 1014.8,929.6 1016.5,931.0 1018.3,932.5 1020.0,933.9 1021.8,935.1 1023.6,936.4 1025.4,937.6 1027.2,938.9 1028.9,940.1 1030.7,941.4 1032.5,942.6 1034.3,943.9 1036.1,945.1 1037.9,946.2 1039.7,947.2 1041.4,948.3 1043.2,949.4 1045.0,950.4 1046.8,951.5 1048.5,952.6 1050.3,953.6 1052.1,954.7 1053.9,955.8 1055.7,956.9 1057.5,957.9 1059.3,959.0 1061.0,960.1 1062.8,961.2 1064.6,962.2 1066.4,963.3 1068.2,964.4 1070.0,965.5 1071.8,966.5 1073.5,967.6 1075.3,968.7 1077.1,969.7 1078.9,970.8 1080.6,971.9 1082.4,972.9 1084.2,974.0 1086.2,975.0 1088.2,976.0 1090.2,977.0 1092.2,978.0 1094.3,979.0 1096.3,980.0 1098.3,981.0 1100.3,982.0 1102.1,983.1 1103.9,984.2 1105.6,985.2 1107.4,986.3 1109.2,987.4 1111.0,988.5 1112.7,989.5 1114.5,990.6 1116.3,991.7 1118.1,992.8 1119.9,993.8 1121.7,994.9 1123.5,996.0 1125.2,997.0 1127.0,998.1 1128.8,999.2 1130.6,1000.2 1132.4,1001.3 1134.4,1002.3 1136.4,1003.3 1138.4,1004.3 1140.4,1005.3 1142.4,1006.3 1144.4,1007.3 1146.4,1008.3 1148.4,1009.3 1150.2,1010.4 1152.0,1011.5 1153.8,1012.5 1155.6,1013.6 1157.3,1014.7 1159.1,1015.8 1160.9,1016.8 1162.7,1017.9 1164.5,1019.0 1166.5,1020.0 1168.5,1021.0 1170.5,1022.0 1172.5,1023.0 1174.5,1024.0 1176.5,1025.0 1178.5,1026.0 1180.5,1027.0 1182.5,1027.8 1184.5,1028.6 1186.5,1029.4 1188.5,1030.2 1190.6,1031.0 1192.6,1031.8 1194.6,1032.6 1196.6,1033.4 1198.5,1034.0 1200.4,1034.6 1202.3,1035.2 1204.3,1035.7 1206.2,1036.3 1208.1,1036.9 1210.0,1037.5 1212.2,1037.9 1214.4,1038.3 1216.6,1038.7 1218.8,1039.1 1221.0,1039.5" fill="none" stroke="#0000ff" stroke-width="5.3" stroke-linejoin="round" stroke-linecap="butt"/>
<polyline points="134.0,1097.0 138.2,1096.6 144.5,1092.7 152.3,1087.2 160.1,1082.5 166.4,1074.7 172.6,1066.9 177.3,1059.0 182.0,1049.6 186.7,1038.7 190.7,1024.6 193.8,1010.5 196.9,999.5 200.0,987.0 203.2,971.3 205.5,955.7 207.9,940.0 208.7,935.8 211.5,912.3 214.2,888.8 216.6,865.3 219.7,834.0 222.4,810.5 225.2,779.0 228.3,740.0 233.0,728.0 236.0,716.0 238.5,693.5 240.5,649.6 243.5,624.6 247.0,605.0 249.0,592.7 251.5,580.1 254.5,567.6 258.0,557.0 261.5,549.4 266.7,546.5 273.7,552.5 278.4,562.0 282.3,579.0 286.3,594.8 287.8,605.8 293.3,618.3 298.0,634.0 301.9,649.6 305.8,665.3 310.5,681.0 316.0,696.6 319.9,712.3 323.8,728.0 326.5,740.0 334.3,770.8 340.8,802.0 347.0,833.0 352.1,862.1 360.0,892.7 366.6,923.2 369.8,930.0 376.8,953.5 385.4,977.0 394.0,1000.5 405.8,1024.0 419.9,1042.8 434.0,1055.3 449.6,1062.3 465.3,1063.1 481.0,1061.5 490.0,1061.0 500.0,1056.5 512.0,1050.5 522.0,1045.0 531.4,1038.2 542.7,1030.7 552.0,1022.6 560.0,1014.0 579.0,996.3 594.0,981.0 606.1,965.8 616.5,950.5 627.5,935.3 636.4,924.0 647.0,908.7 654.0,893.4 665.0,878.2 676.5,862.9 684.0,847.8 691.8,836.1 701.6,820.5 714.5,804.8 727.5,789.2 735.0,779.0 745.0,769.4 756.7,765.0 768.5,758.0 780.2,756.8 792.0,760.7 803.7,761.0 815.5,767.0 820.0,769.4 835.7,780.4 851.3,789.8 867.0,799.2 882.6,808.6 898.3,817.9 914.0,827.3 929.6,839.9 945.3,855.5 961.0,872.8 976.6,890.0 992.3,907.2 1007.9,921.3 1020.0,931.4 1036.1,942.6 1052.1,952.2 1068.2,961.9 1084.2,971.5 1100.3,979.5 1116.3,989.2 1132.4,998.8 1148.4,1006.8 1164.5,1016.5 1180.5,1024.5 1196.6,1030.9 1210.0,1035.0 1221.0,1037.0" fill="none" stroke="#0000ff" stroke-width="5.3" stroke-linejoin="round" stroke-linecap="butt"/>
<rect x="1163.0" y="1016.5" width="3" height="10.2" fill="#0000ff"/>
<rect x="532.5" y="1036.5" width="3" height="5.1" fill="#0000ff"/>
<rect x="729.1" y="785.0" width="3" height="9.7" fill="#0000ff"/>
<rect x="1045.3" y="949.0" width="3" height="9.5" fill="#0000ff"/>
<rect x="1155.0" y="1011.6" width="3" height="7.0" fill="#0000ff"/>
<rect x="945.8" y="857.8" width="3" height="6.6" fill="#0000ff"/>
<rect x="514.1" y="1048.5" width="3" height="7.5" fill="#0000ff"/>
<rect x="608.6" y="959.9" width="3" height="10.0" fill="#0000ff"/>
<rect x="968.3" y="882.5" width="3" height="7.5" fill="#0000ff"/>
<rect x="1033.8" y="942.0" width="3" height="9.8" fill="#0000ff"/>
<rect x="865.5" y="799.2" width="3" height="10.2" fill="#0000ff"/>
<rect x="896.8" y="817.9" width="3" height="10.2" fill="#0000ff"/>
<rect x="859.4" y="795.5" width="3" height="6.8" fill="#0000ff"/>
<rect x="514.1" y="1048.5" width="3" height="8.9" fill="#0000ff"/>
<rect x="731.0" y="782.4" width="3" height="7.8" fill="#0000ff"/>
<rect x="701.4" y="818.9" width="3" height="10.0" fill="#0000ff"/>
<rect x="786.6" y="759.4" width="3" height="10.0" fill="#0000ff"/>
<rect x="880.2" y="808.1" width="3" height="6.3" fill="#0000ff"/>
<polygon points="251.5,575 253,567 256,559.5 259,553 262.5,547.5 265.5,543.2 268.5,543.2 272,546.5 276,550.5 279,556 281.5,563 283,572 278,572 275.5,565 271.5,560 268.5,557.6 265.5,557.6 262.5,560 260,566 258.5,575" fill="#0000ff"/>
<polygon points="109,1087.6 114.4,1087.6 114.4,1095 120,1095 120,1088 123,1088 123,1091 126,1091 126,1096 128.8,1096 128.8,1084.5 133.8,1084.5 133.8,1097 140,1099 140,1104 109,1104" fill="#000"/><rect x="121" y="1103" width="3" height="3" fill="#000"/>
<polyline points="134.0,1099.2 136.0,1100.5 138.0,1101.7 140.4,1101.0 142.8,1100.3 145.2,1099.6 147.6,1098.9 149.6,1098.1 151.5,1097.4 153.4,1096.6 155.4,1095.8 157.3,1094.6 159.3,1093.5 161.2,1092.3 163.2,1091.1 165.3,1089.5 167.4,1088.0 169.5,1086.4 171.1,1084.9 172.7,1083.3 174.2,1081.8 175.8,1080.2 177.0,1078.6 178.3,1077.0 179.5,1075.5 180.8,1073.9 182.0,1072.3 182.9,1070.4 183.9,1068.5 184.8,1066.7 185.8,1064.8 186.7,1062.9 187.6,1060.7 188.6,1058.5 189.5,1056.4 190.5,1054.2 191.4,1052.0 191.9,1049.9 192.5,1047.8 193.0,1045.7 193.5,1043.6 194.1,1041.5 194.6,1039.4 195.1,1037.3 195.6,1035.2 196.1,1033.2 196.7,1031.1 197.2,1029.0 197.7,1026.9 198.2,1024.8 198.7,1022.7 199.2,1020.7 199.8,1018.6 200.3,1016.5 200.8,1014.4 201.3,1012.3 201.9,1010.2 202.4,1008.1 202.9,1006.0 203.5,1003.9 204.0,1001.8 204.3,999.6 204.7,997.3 205.0,995.1 205.3,992.9 205.6,990.7 206.0,988.4 206.3,986.2 206.6,984.0 207.0,981.7 207.3,979.5 207.7,977.2 208.0,975.0 208.4,972.7 208.7,970.5 209.0,968.3 209.4,966.0 209.7,963.8 210.0,961.6 210.3,959.4 210.7,957.1 211.0,954.9 211.2,952.7 211.5,950.4 211.7,948.2 211.9,945.9 212.1,943.7 212.4,941.4 212.6,939.2 213.0,937.2 213.4,935.2 213.8,933.2 214.2,931.2 214.6,929.2 215.0,927.2 215.3,925.0 215.7,922.7 216.0,920.5 216.3,918.2 216.6,916.0 217.0,913.7 217.3,911.5 217.4,909.3 217.4,907.0 217.5,904.8 217.5,902.5 217.6,900.3 217.6,898.0 217.7,895.8 218.1,893.6 218.5,891.3 218.9,889.1 219.3,886.9 219.7,884.7 220.1,882.4 220.5,880.2 220.5,878.0 220.5,875.7 220.5,873.5 220.5,871.2 220.5,869.0 220.5,866.7 220.5,864.5 220.8,862.3 221.2,860.0 221.5,857.8 221.8,855.5 222.1,853.3 222.5,851.0 222.8,848.8 222.8,846.6 222.9,844.3 222.9,842.1 223.0,839.9 223.0,837.7 223.1,835.4 223.1,833.2 223.5,831.0 223.9,828.7 224.3,826.5 224.8,824.2 225.2,822.0 225.6,819.7 226.0,817.5 226.0,815.3 226.1,813.0 226.1,810.8 226.2,808.5 226.2,806.3 226.3,804.0 226.3,801.8 226.6,799.6 226.9,797.3 227.2,795.1 227.4,792.9 227.7,790.7 228.0,788.4 228.3,786.2 228.4,784.0 228.5,781.7 228.6,779.5 228.8,777.2 228.9,775.0 229.0,772.7 229.1,770.5 229.1,768.3 229.2,766.0 229.2,763.8 229.3,761.6 229.3,759.4 229.4,757.1 229.4,754.9 229.7,752.7 230.1,750.4 230.4,748.2 230.8,745.9 231.1,743.7 231.5,741.4 231.8,739.2 231.8,737.1 231.8,735.0 231.8,732.9 231.8,730.8 231.8,728.7 231.8,726.6 231.8,724.6 231.8,722.5 231.8,720.4 231.8,718.3 231.8,716.2 231.8,714.1 231.8,712.0 231.8,709.9 232.0,707.8 232.2,705.7 232.4,703.5 232.6,701.4 232.8,699.3 233.0,697.2 233.2,695.1 233.4,692.9 233.6,690.8 233.8,688.7 234.0,686.6 234.2,684.4 234.4,682.3 234.6,680.2 234.6,678.2 234.6,676.1 234.6,674.1 234.7,672.0 234.7,670.0 234.7,668.0 234.7,665.9 234.7,663.9 234.7,661.8 234.8,659.8 234.8,657.8 234.8,655.7 234.8,653.7 234.8,651.6 234.8,649.6 234.8,647.6 234.9,645.5 234.9,643.5 234.9,641.4 234.9,639.4 235.0,637.3 235.2,635.2 235.3,633.1 235.4,631.0 235.5,629.0 235.7,626.9 235.8,624.8 235.9,622.7 236.1,620.6 236.2,618.5 236.3,616.4 236.4,614.3 236.6,612.2 236.7,610.2 236.8,608.1 236.9,606.0 237.1,603.9 237.2,601.8 237.2,599.7 237.3,597.6 237.3,595.5 237.3,593.4 237.3,591.4 237.4,589.3 237.4,587.2 237.4,585.1 237.4,583.0 237.5,580.9 237.5,578.8 237.5,576.7 237.6,574.6 237.6,572.6 237.6,570.5 237.6,568.4 237.7,566.3 237.7,564.2 237.9,562.1 238.1,560.0 238.4,558.0 238.6,555.9 238.8,553.8 239.1,551.7 239.3,549.6 239.5,547.5 239.7,545.5 239.9,543.4 240.2,541.3 240.4,539.2 240.4,537.1 240.3,534.9 240.3,532.8 240.2,530.7 240.2,528.5 240.2,526.4 240.1,524.3 240.1,522.2 240.1,520.0 240.0,517.9 240.0,515.8 239.9,513.6 239.9,511.5 240.2,509.3 240.6,507.0 240.9,504.8 241.3,502.5 241.6,500.3 242.0,498.0 242.3,495.8 242.3,493.7 242.4,491.7 242.4,489.6 242.5,487.6 242.5,485.5 242.6,483.5 242.6,481.4 242.6,479.3 242.7,477.3 242.7,475.2 242.8,473.2 242.8,471.1 242.8,469.0 242.9,467.0 242.9,464.9 243.0,462.9 243.0,460.8 243.1,458.8 243.1,456.7 243.3,454.6 243.5,452.4 243.7,450.3 243.9,448.2 244.1,446.0 244.4,443.9 244.6,441.7 244.8,439.6 245.0,437.5 245.2,435.3 245.4,433.2 245.5,431.2 245.5,429.2 245.6,427.2 245.7,425.2 245.8,423.2 245.8,421.2 245.9,419.2 246.0,417.2 246.1,415.2 246.1,413.2 246.2,411.2 246.6,409.1 247.0,406.9 247.4,404.8 247.8,402.6 248.1,400.4 248.5,398.3 248.9,396.1 249.3,394.0 249.4,391.9 249.4,389.7 249.5,387.6 249.6,385.5 249.7,383.3 249.7,381.2 249.8,379.0 249.9,376.9 250.0,374.8 250.0,372.6 250.1,370.5 250.2,368.5 250.3,366.5 250.4,364.4 250.5,362.4 250.6,360.4 250.7,358.4 250.8,356.3 250.9,354.3 251.0,352.3 251.1,350.3 251.2,348.3 251.3,346.2 251.4,344.2 251.5,342.2 251.8,340.2 252.2,338.1 252.5,336.1 252.8,334.1 253.1,332.0 253.4,330.0 253.8,327.9 254.1,325.9 254.4,323.8 254.6,321.7 254.9,319.7 255.1,317.6 255.4,315.5 255.6,313.4 255.9,311.3 256.1,309.2 256.4,307.2 256.6,305.1 256.9,303.0 257.2,300.9 257.4,298.8 257.7,296.8 258.0,294.7 258.2,292.6 258.5,290.5 258.7,288.4 259.0,286.3 259.3,284.3 259.5,282.2 259.8,280.1 260.2,277.9 260.5,275.8 260.9,273.6 261.2,271.5 261.6,269.3 261.9,267.2 262.2,265.0 262.6,262.9 263.0,260.8 263.4,258.6 263.8,256.5 264.3,254.4 264.7,252.3 265.1,250.1 265.5,248.0 266.2,245.9 266.9,243.9 267.5,241.8 268.2,239.8 268.9,237.7 269.5,234.8 270.1,232.0 272.4,230.8 274.7,229.7 275.1,227.6 275.5,225.5 275.9,223.4 276.2,221.3 276.6,219.2 277.0,217.1 277.5,215.0 277.9,213.0 278.4,210.9 278.8,208.9 279.3,206.8 282.1,205.2 282.6,207.2 283.1,209.2 283.5,211.2 284.0,213.2 284.0,215.2 284.1,217.2 284.1,219.2 284.2,221.2 284.2,223.2 284.3,225.2 284.3,227.2 284.4,229.2 284.4,231.2 284.5,233.2 284.5,235.2 284.5,237.2 284.6,239.2 284.6,241.2 284.7,243.2 284.7,245.2 284.8,247.2 284.8,249.2 284.9,251.2 284.9,253.2 285.0,255.2 285.0,257.2 285.1,255.2 285.2,253.2 285.3,251.2 285.4,249.2 285.5,247.2 285.6,245.2 285.7,243.2 285.8,241.2 285.8,239.2 285.9,237.2 286.0,235.2 286.1,233.2 286.2,231.2 286.3,229.2 286.4,227.2 286.5,225.2 288.4,228.6 288.9,230.9 289.3,233.2 289.8,235.4 290.2,237.7 290.7,240.0 291.4,242.3 292.1,244.6 292.9,246.9 293.6,249.2 293.9,251.5 294.2,253.8 294.5,256.1 294.7,258.3 295.0,260.6 295.3,262.9 296.0,265.2 296.7,267.5 297.3,269.8 298.0,272.1 298.7,274.4 299.2,276.7 299.6,279.0 300.1,281.2 300.5,283.5 301.0,285.8 301.1,287.8 301.3,289.9 301.4,291.9 301.5,294.0 301.7,296.0 301.8,298.1 301.9,300.1 302.1,302.1 302.2,304.2 302.5,306.4 302.9,308.6 303.2,310.8 303.5,313.1 303.9,315.3 304.2,317.5 304.6,319.6 304.9,321.7 305.2,323.8 305.6,325.9 305.9,328.0 306.3,330.2 306.6,332.3 307.0,334.4 307.3,336.5 307.6,338.6 307.9,340.7 308.2,342.9 308.4,345.0 308.7,347.1 309.0,349.2 309.3,351.3 309.6,353.5 309.9,355.6 310.2,357.7 310.5,359.8 310.7,361.9 311.0,364.0 311.3,366.1 311.6,368.2 311.9,370.3 312.1,372.4 312.4,374.6 312.7,376.7 313.0,378.7 313.2,380.8 313.5,382.9 313.7,384.9 314.0,387.0 314.2,389.1 314.5,391.2 314.8,393.4 315.1,395.6 315.4,397.8 315.7,400.0 316.0,402.2 317.0,399.7 318.0,397.1 318.4,395.0 318.7,392.9 319.1,390.8 319.4,388.7 319.8,386.6 320.1,384.5 320.4,382.4 320.8,380.3 321.1,378.2 321.5,376.1 321.8,378.3 322.1,380.4 322.4,382.6 322.6,384.7 322.9,386.8 323.2,389.0 323.5,391.1 323.9,393.1 324.2,395.1 324.6,397.1 325.0,399.1 325.4,401.1 325.8,403.1 326.1,405.1 326.5,407.1 326.7,409.1 326.9,411.1 327.1,413.2 327.3,415.2 327.6,417.2 327.8,419.2 328.0,421.2 328.2,423.2 328.4,425.2 329.0,427.4 329.7,429.6 330.3,431.8 331.0,434.0 331.6,436.2 331.7,438.2 331.7,440.2 331.8,442.3 331.8,444.3 331.9,446.3 331.9,448.3 332.0,450.3 332.0,452.3 332.1,454.3 332.1,456.4 332.2,458.4 332.2,460.4 332.2,462.4 332.3,464.4 332.6,466.6 333.0,468.9 333.3,471.1 333.7,473.4 334.0,475.6 334.4,477.9 334.7,480.1 334.9,482.3 335.2,484.6 335.4,486.8 335.6,489.0 335.8,491.2 336.1,493.5 336.3,495.7 336.5,497.8 336.7,500.0 336.9,502.1 337.1,504.2 337.3,506.4 337.6,508.5 337.8,510.6 338.0,512.8 338.2,514.9 338.4,517.1 338.6,519.2 338.8,521.2 339.1,523.2 339.3,525.2 339.5,527.1 339.8,529.1 340.0,531.1 340.2,533.1 340.4,535.1 340.7,537.1 340.9,539.1 341.2,541.2 341.4,543.2 341.7,545.3 341.9,547.4 342.2,549.5 342.4,551.6 342.7,553.7 342.9,555.7 343.2,557.8 343.4,559.9 343.7,562.0 343.9,564.1 344.1,566.2 344.3,568.3 344.5,570.4 344.7,572.5 344.9,574.7 345.1,576.8 345.3,578.9 345.5,581.0 345.7,583.1 345.9,585.2 346.1,587.4 346.3,589.5 346.6,591.5 346.8,593.5 347.1,595.6 347.3,597.6 347.6,599.6 347.8,601.7 348.1,603.7 348.3,605.7 348.6,607.8 348.8,609.8 349.1,611.8 349.3,613.9 349.5,616.0 349.7,618.1 349.9,620.2 350.2,622.3 350.4,624.4 350.6,626.5 350.8,628.7 351.0,630.8 351.2,632.9 351.5,635.0 351.7,637.1 351.9,639.2 352.1,641.4 352.3,643.5 352.5,645.6 352.7,647.7 352.9,649.8 353.1,651.9 353.3,654.0 353.6,656.2 353.8,658.3 354.0,660.4 354.2,662.5 354.4,664.6 354.6,666.7 354.8,668.8 355.1,670.9 355.3,673.0 355.6,675.1 355.9,677.2 356.1,679.2 356.4,681.3 356.6,683.4 356.9,685.5 357.2,687.6 357.4,689.7 357.7,691.7 358.0,693.8 358.2,695.9 358.5,698.0 358.7,700.1 359.0,702.1 359.2,704.2 359.5,706.3 359.7,708.4 360.0,710.5 360.2,712.5 360.5,714.6 360.7,716.7 361.0,718.7 361.2,720.7 361.5,722.8 361.7,724.8 362.0,726.8 362.2,728.9 362.5,730.9 362.7,732.9 363.0,735.0 363.2,737.0 363.5,739.0 363.9,741.1 364.2,743.1 364.5,745.1 364.9,747.2 365.2,749.2 365.5,751.2 365.9,753.3 366.2,755.3 366.5,757.3 366.8,759.4 367.2,761.4 367.5,763.4 367.8,765.4 368.2,767.5 368.5,769.5 368.7,771.5 369.0,773.6 369.2,775.6 369.4,777.7 369.6,779.7 369.9,781.7 370.1,783.8 370.3,785.8 370.5,787.9 370.8,789.9 371.0,791.9 371.2,794.0 371.4,796.0 371.7,798.1 371.9,800.1 372.2,802.1 372.6,804.2 372.9,806.2 373.2,808.2 373.6,810.3 373.9,812.3 374.2,814.3 374.6,816.4 374.9,818.4 375.2,820.4 375.6,822.5 375.9,824.5 376.2,826.5 376.6,828.5 376.9,830.6 377.3,832.6 377.7,834.6 378.0,836.7 378.4,838.7 378.8,840.7 379.2,842.8 379.6,844.8 379.9,846.8 380.3,848.9 380.7,850.9 381.1,852.9 381.5,855.0 381.8,857.0 382.2,859.0 382.6,861.1 383.0,863.1 383.4,865.1 383.8,867.2 384.1,869.2 384.5,871.3 384.9,873.3 385.3,875.3 385.7,877.4 386.1,879.4 386.5,881.5 386.9,883.5 387.2,885.5 387.6,887.6 388.0,889.6 388.4,891.6 388.8,893.7 389.1,895.7 389.5,897.7 389.9,899.8 390.3,901.8 390.6,903.8 391.0,905.9 391.4,907.9 391.8,909.9 392.1,912.0 392.5,914.0 392.9,916.0 393.3,918.1 393.6,920.1 394.0,922.1 394.5,924.1 395.0,926.0 395.5,928.0 396.0,930.0 396.5,931.9 397.2,934.0 397.9,936.0 398.6,938.1 399.3,940.1 399.9,942.2 400.6,944.2 401.3,946.3 402.0,948.3 402.7,950.4 403.4,952.4 404.0,954.4 404.6,956.3 405.2,958.3 405.8,960.2 406.4,962.2 406.9,964.1 407.5,966.1 408.1,968.1 408.7,970.0 409.3,972.0 409.9,973.9 410.5,975.9 411.1,977.8 411.8,979.8 412.4,981.8 413.1,983.7 413.8,985.7 414.4,987.6 415.1,989.6 415.7,991.5 416.4,993.5 417.0,995.4 417.7,997.4 418.3,999.4 419.1,1001.2 419.8,1003.1 420.6,1004.9 421.4,1006.8 422.2,1008.6 422.9,1010.5 423.7,1012.3 424.9,1014.3 426.0,1016.2 427.2,1018.2 428.4,1020.1 429.5,1022.2 430.7,1024.2 431.9,1026.3 433.0,1028.3 435.2,1029.0 437.3,1029.6 439.5,1030.3 441.7,1031.0 443.8,1031.6 446.0,1032.3 448.0,1033.9 450.0,1035.6 452.0,1037.2 453.8,1038.6 455.5,1040.0 457.2,1041.3 459.0,1042.7 461.0,1044.2 463.0,1045.7 465.0,1047.2 467.1,1047.3 469.3,1047.4 471.4,1047.6 473.6,1047.7 475.7,1047.8 477.9,1048.0 480.0,1048.1 481.0,1045.6 482.0,1043.1 484.1,1043.1 486.2,1043.1 488.3,1043.1 490.4,1043.0 492.5,1043.0 494.6,1043.0 496.7,1043.0 498.8,1043.0 500.9,1043.0 503.0,1043.0 505.0,1040.0 507.0,1040.0 509.0,1040.0 511.0,1039.9 513.0,1039.9 514.2,1038.2 515.3,1036.4 516.5,1034.7 517.7,1032.9 518.8,1031.2 520.0,1029.4 521.9,1028.3 523.8,1027.3 525.7,1026.2 527.6,1025.2 529.5,1024.1 531.4,1023.0 533.4,1022.1 535.5,1021.1 537.5,1020.1 539.5,1019.1 541.1,1017.6 542.7,1016.2 544.2,1014.7 545.8,1013.2 547.4,1011.7 549.0,1010.3 550.6,1009.0 552.2,1007.8 553.8,1006.6 555.4,1005.4 557.0,1004.2 558.6,1002.8 560.1,1001.4 561.7,1000.0 563.3,998.6 564.9,997.2 566.4,995.9 568.0,994.5 569.4,992.9 570.8,991.4 572.1,989.8 573.5,988.3 574.9,986.8 576.3,985.2 577.7,983.7 579.0,982.2 580.4,980.6 581.8,979.1 583.2,977.6 584.5,976.0 585.9,974.5 587.3,973.0 588.6,971.5 590.0,969.9 591.4,968.4 592.8,966.9 594.1,965.3 595.5,963.8 596.6,962.1 597.7,960.4 598.8,958.7 599.9,957.0 601.0,955.3 602.1,953.6 603.2,951.9 604.3,950.2 605.4,948.5 606.5,946.8 607.6,945.1 608.7,943.4 609.8,941.7 610.9,940.0 612.0,938.3 613.1,936.6 614.2,934.9 615.3,933.2 616.5,931.3 617.7,929.4 619.0,927.6 620.2,925.7 621.4,923.8 622.6,921.9 623.7,920.2 624.9,918.5 626.0,916.8 627.2,915.1 628.3,913.4 629.5,911.7 630.6,909.9 631.8,908.2 632.9,906.5 633.9,904.6 635.0,902.7 636.0,900.8 637.1,898.9 638.1,896.9 639.2,895.0 640.2,893.1 641.3,891.2 642.3,889.3 643.4,887.4 644.5,885.5 645.5,883.6 646.5,881.7 647.6,879.8 648.7,877.9 649.7,876.0 650.6,874.0 651.5,872.1 652.4,870.2 653.4,868.3 654.3,866.4 655.2,864.4 656.1,862.5 657.0,860.6 658.2,858.7 659.5,856.9 660.7,855.0 661.9,853.1 663.1,851.2 664.3,849.3 665.6,847.4 666.8,845.6 667.8,843.6 668.9,841.6 669.9,839.7 670.9,837.7 672.0,835.7 673.0,833.7 674.1,831.8 675.1,829.8 676.2,827.9 677.3,825.9 678.4,824.0 679.5,822.0 680.5,820.0 681.6,818.1 682.6,816.1 683.6,814.2 684.7,812.2 685.7,810.2 686.7,808.3 687.8,806.3 688.8,804.3 689.8,802.4 691.0,800.6 692.2,798.9 693.3,797.1 694.5,795.4 695.7,793.7 696.9,791.9 698.0,790.2 699.2,788.4 700.4,786.7 701.5,784.7 702.5,782.8 703.6,780.8 704.7,778.9 705.8,776.9 706.9,774.9 707.9,773.0 709.0,771.0 710.2,769.3 711.4,767.5 712.5,765.8 713.7,764.0 714.9,762.3 716.1,760.5 717.2,758.8 718.4,757.0 719.6,755.3 720.9,753.4 722.2,751.6 723.4,749.7 724.7,747.9 726.0,746.0 727.3,744.4 728.6,742.7 729.9,741.1 731.2,739.5 732.6,737.8 733.9,736.2 735.2,734.5 736.5,732.9 738.1,731.5 739.6,730.2 741.2,728.8 742.8,727.5 744.3,726.1 745.9,724.7 747.4,723.4 749.0,722.0 750.8,721.0 752.5,720.0 754.3,719.0 756.0,718.0 757.8,717.0 759.6,716.0 761.3,715.0 763.1,714.0 765.3,713.6 767.6,713.1 769.8,712.7 772.1,712.3 774.3,711.9 776.6,711.4 778.8,711.0 780.8,711.1 782.8,711.3 784.8,711.4 786.9,711.6 788.9,711.7 790.9,711.9 792.9,712.0 795.2,712.8 797.6,713.5 799.9,714.3 802.3,715.1 803.9,716.5 805.4,717.9 807.0,719.3 808.6,720.7 810.1,722.1 811.7,723.5 813.3,725.3 815.0,727.0 816.6,728.8 818.2,730.6 820.2,729.0 822.1,727.5 824.0,726.0 826.0,724.4 827.6,725.7 829.1,727.0 830.7,728.3 832.3,729.6 833.8,730.9 835.4,732.2 836.7,734.0 838.1,735.8 839.4,737.6 840.8,739.3 842.1,741.1 843.5,742.9 844.8,744.7 846.4,746.3 847.9,747.8 849.5,749.4 851.1,751.0 852.6,752.5 854.2,754.1 856.1,753.2 858.0,752.2 859.8,751.3 861.7,750.3 863.6,749.4 865.2,751.0 866.7,752.5 868.3,754.1 869.9,755.7 871.5,757.3 873.0,758.8 874.6,760.4 876.2,761.8 877.7,763.1 879.3,764.5 880.9,765.8 882.4,767.2 884.0,768.6 885.5,769.9 887.1,771.3 889.2,771.9 891.3,772.5 893.4,773.1 895.4,773.8 897.5,774.4 899.6,775.0 901.2,776.5 902.8,778.1 904.4,779.6 906.0,781.1 907.6,782.7 909.2,784.2 910.8,785.7 912.4,787.3 914.0,788.8 915.4,790.2 916.8,791.7 918.3,793.1 919.7,794.5 921.1,795.9 922.5,797.4 923.9,798.8 925.3,800.2 926.8,801.6 928.2,803.1 929.6,804.5 931.0,805.9 932.5,807.3 933.9,808.8 935.3,810.2 936.7,811.6 938.2,813.0 939.6,814.4 941.0,815.8 942.4,817.3 943.9,818.7 945.3,820.1 946.4,821.9 947.5,823.7 948.7,825.5 949.8,827.3 950.9,829.0 952.0,830.8 953.1,832.6 954.3,834.4 955.4,836.2 956.5,838.0 957.9,839.6 959.2,841.1 960.6,842.7 962.0,844.2 963.4,845.8 964.7,847.4 966.1,848.9 967.5,850.5 968.8,852.0 970.2,853.6 971.5,855.3 972.9,856.9 974.2,858.6 975.6,860.3 976.9,862.0 978.3,863.6 979.6,865.3 981.0,867.0 982.3,868.7 983.7,870.3 985.0,872.0 986.4,873.6 987.9,875.3 989.3,876.9 990.7,878.5 992.1,880.2 993.6,881.8 995.0,883.5 996.4,885.1 997.8,886.7 999.3,888.4 1000.7,890.0 1002.5,891.0 1004.3,891.9 1006.1,892.8 1007.9,893.8 1009.4,895.4 1010.9,896.9 1012.4,898.5 1014.0,900.1 1015.5,901.7 1017.0,903.2 1018.5,904.8 1020.0,906.4 1021.6,907.7 1023.2,909.0 1024.8,910.2 1026.4,911.5 1028.0,912.8 1029.7,914.1 1031.3,915.4 1032.9,916.6 1034.5,917.9 1036.1,919.2 1037.9,920.5 1039.7,921.7 1041.4,923.0 1043.2,924.2 1045.0,925.5 1046.8,926.7 1048.5,928.0 1050.3,929.2 1052.1,930.5 1054.1,931.5 1056.1,932.5 1058.1,933.5 1060.2,934.5 1062.2,935.5 1064.2,936.5 1066.2,937.5 1068.2,938.5 1070.0,939.7 1071.8,941.0 1073.5,942.2 1075.3,943.5 1077.1,944.7 1078.9,946.0 1080.6,947.2 1082.4,948.5 1084.2,949.7 1085.8,951.0 1087.4,952.3 1089.0,953.6 1090.6,954.9 1092.2,956.2 1093.9,957.4 1095.5,958.7 1097.1,960.0 1098.7,961.3 1100.3,962.6 1102.1,963.7 1103.9,964.7 1105.6,965.8 1107.4,966.9 1109.2,967.9 1111.0,969.0 1112.7,970.1 1114.5,971.1 1116.3,972.2 1117.9,973.5 1119.5,974.8 1121.1,976.1 1122.7,977.4 1124.3,978.7 1126.0,979.9 1127.6,981.2 1129.2,982.5 1130.8,983.8 1132.4,985.1 1134.2,986.2 1136.0,987.2 1137.7,988.3 1139.5,989.4 1141.3,990.4 1143.1,991.5 1144.8,992.6 1146.6,993.6 1148.4,994.7 1150.2,995.8 1152.0,996.8 1153.8,997.9 1155.6,999.0 1157.3,1000.0 1159.1,1001.1 1160.9,1002.2 1162.7,1003.2 1164.5,1004.3 1166.5,1005.3 1168.5,1006.3 1170.5,1007.3 1172.5,1008.3 1174.5,1009.4 1176.5,1010.4 1178.5,1011.4 1180.5,1012.4 1182.5,1013.2 1184.5,1014.0 1186.5,1014.8 1188.5,1015.6 1190.6,1016.4 1192.6,1017.2 1194.6,1018.0 1196.6,1018.8 1198.8,1018.9 1201.0,1019.0 1202.8,1020.1 1204.6,1021.2 1206.4,1022.3 1208.2,1023.4 1210.0,1024.5 1212.2,1025.0 1214.4,1025.5 1216.6,1026.0 1218.8,1026.5 1221.0,1027.0" fill="none" stroke="#000000" stroke-width="5.3" stroke-linejoin="round" stroke-linecap="butt"/>
<polyline points="134.0,1100.8 136.0,1102.0 138.0,1103.3 140.4,1102.6 142.8,1101.9 145.2,1101.2 147.6,1100.5 149.6,1099.7 151.5,1099.0 153.4,1098.2 155.4,1097.4 157.3,1096.2 159.3,1095.0 161.2,1093.9 163.2,1092.7 165.3,1091.1 167.4,1089.6 169.5,1088.0 171.1,1086.5 172.7,1084.9 174.2,1083.3 175.8,1081.8 177.0,1080.2 178.3,1078.6 179.5,1077.1 180.8,1075.5 182.0,1073.9 182.9,1072.0 183.9,1070.1 184.8,1068.3 185.8,1066.4 186.7,1064.5 187.6,1062.3 188.6,1060.1 189.5,1058.0 190.5,1055.8 191.4,1053.6 191.9,1051.5 192.5,1049.4 193.0,1047.3 193.5,1045.2 194.1,1043.1 194.6,1041.0 195.1,1038.9 195.6,1036.8 196.1,1034.8 196.7,1032.7 197.2,1030.6 197.7,1028.5 198.2,1026.4 198.7,1024.3 199.2,1022.2 199.8,1020.2 200.3,1018.1 200.8,1016.0 201.3,1013.9 201.9,1011.8 202.4,1009.7 202.9,1007.6 203.5,1005.5 204.0,1003.4 204.3,1001.2 204.7,998.9 205.0,996.7 205.3,994.5 205.6,992.3 206.0,990.0 206.3,987.8 206.6,985.6 207.0,983.3 207.3,981.1 207.7,978.8 208.0,976.6 208.4,974.3 208.7,972.1 209.0,969.9 209.4,967.6 209.7,965.4 210.0,963.2 210.3,961.0 210.7,958.7 211.0,956.5 211.2,954.3 211.5,952.0 211.7,949.8 211.9,947.5 212.1,945.3 212.4,943.0 212.6,940.8 213.0,938.8 213.4,936.8 213.8,934.8 214.2,932.8 214.6,930.8 215.0,928.8 215.3,926.6 215.7,924.3 216.0,922.1 216.3,919.8 216.6,917.6 217.0,915.3 217.3,913.1 217.4,910.9 217.4,908.6 217.5,906.4 217.5,904.1 217.6,901.9 217.6,899.6 217.7,897.4 218.1,895.2 218.5,892.9 218.9,890.7 219.3,888.5 219.7,886.3 220.1,884.0 220.5,881.8 220.5,879.6 220.5,877.3 220.5,875.1 220.5,872.8 220.5,870.6 220.5,868.3 220.5,866.1 220.8,863.9 221.2,861.6 221.5,859.4 221.8,857.1 222.1,854.9 222.5,852.6 222.8,850.4 222.8,848.2 222.9,845.9 222.9,843.7 223.0,841.5 223.0,839.3 223.1,837.0 223.1,834.8 223.5,832.6 223.9,830.3 224.3,828.1 224.8,825.8 225.2,823.6 225.6,821.3 226.0,819.1 226.0,816.9 226.1,814.6 226.1,812.4 226.2,810.1 226.2,807.9 226.3,805.6 226.3,803.4 226.6,801.2 226.9,798.9 227.2,796.7 227.4,794.5 227.7,792.3 228.0,790.0 228.3,787.8 228.4,785.6 228.5,783.3 228.6,781.1 228.8,778.8 228.9,776.6 229.0,774.3 229.1,772.1 229.1,769.9 229.2,767.6 229.2,765.4 229.3,763.2 229.3,761.0 229.4,758.7 229.4,756.5 229.7,754.3 230.1,752.0 230.4,749.8 230.8,747.5 231.1,745.3 231.5,743.0 231.8,740.8 231.8,738.7 231.8,736.6 231.8,734.5 231.8,732.4 231.8,730.3 231.8,728.2 231.8,726.1 231.8,724.1 231.8,722.0 231.8,719.9 231.8,717.8 231.8,715.7 231.8,713.6 231.8,711.5 232.0,709.4 232.2,707.3 232.4,705.1 232.6,703.0 232.8,700.9 233.0,698.8 233.2,696.6 233.4,694.5 233.6,692.4 233.8,690.3 234.0,688.2 234.2,686.0 234.4,683.9 234.6,681.8 234.6,679.8 234.6,677.7 234.6,675.7 234.7,673.6 234.7,671.6 234.7,669.6 234.7,667.5 234.7,665.5 234.7,663.4 234.8,661.4 234.8,659.4 234.8,657.3 234.8,655.3 234.8,653.2 234.8,651.2 234.8,649.2 234.9,647.1 234.9,645.1 234.9,643.0 234.9,641.0 235.0,638.9 235.2,636.8 235.3,634.7 235.4,632.6 235.5,630.6 235.7,628.5 235.8,626.4 235.9,624.3 236.1,622.2 236.2,620.1 236.3,618.0 236.4,615.9 236.6,613.8 236.7,611.8 236.8,609.7 236.9,607.6 237.1,605.5 237.2,603.4 237.2,601.3 237.3,599.2 237.3,597.1 237.3,595.0 237.3,593.0 237.4,590.9 237.4,588.8 237.4,586.7 237.4,584.6 237.5,582.5 237.5,580.4 237.5,578.3 237.6,576.2 237.6,574.2 237.6,572.1 237.6,570.0 237.7,567.9 237.7,565.8 237.9,563.7 238.1,561.6 238.4,559.5 238.6,557.5 238.8,555.4 239.1,553.3 239.3,551.2 239.5,549.1 239.7,547.0 239.9,545.0 240.2,542.9 240.4,540.8 240.4,538.7 240.3,536.5 240.3,534.4 240.2,532.3 240.2,530.1 240.2,528.0 240.1,525.9 240.1,523.8 240.1,521.6 240.0,519.5 240.0,517.4 239.9,515.2 239.9,513.1 240.2,510.9 240.6,508.6 240.9,506.4 241.3,504.1 241.6,501.9 242.0,499.6 242.3,497.4 242.3,495.3 242.4,493.3 242.4,491.2 242.5,489.2 242.5,487.1 242.6,485.1 242.6,483.0 242.6,480.9 242.7,478.9 242.7,476.8 242.8,474.8 242.8,472.7 242.8,470.6 242.9,468.6 242.9,466.5 243.0,464.5 243.0,462.4 243.1,460.4 243.1,458.3 243.3,456.2 243.5,454.0 243.7,451.9 243.9,449.8 244.1,447.6 244.4,445.5 244.6,443.3 244.8,441.2 245.0,439.1 245.2,436.9 245.4,434.8 245.5,432.8 245.5,430.8 245.6,428.8 245.7,426.8 245.8,424.8 245.8,422.8 245.9,420.8 246.0,418.8 246.1,416.8 246.1,414.8 246.2,412.8 246.6,410.7 247.0,408.5 247.4,406.4 247.8,404.2 248.1,402.1 248.5,399.9 248.9,397.8 249.3,395.6 249.4,393.5 249.4,391.3 249.5,389.2 249.6,387.1 249.7,384.9 249.7,382.8 249.8,380.6 249.9,378.5 250.0,376.4 250.0,374.2 250.1,372.1 250.2,370.1 250.3,368.1 250.4,366.0 250.5,364.0 250.6,362.0 250.7,360.0 250.8,357.9 250.9,355.9 251.0,353.9 251.1,351.9 251.2,349.9 251.3,347.8 251.4,345.8 251.5,343.8 251.8,341.8 252.2,339.7 252.5,337.7 252.8,335.7 253.1,333.6 253.4,331.6 253.8,329.5 254.1,327.5 254.4,325.4 254.6,323.3 254.9,321.3 255.1,319.2 255.4,317.1 255.6,315.0 255.9,312.9 256.1,310.8 256.4,308.8 256.6,306.7 256.9,304.6 257.2,302.5 257.4,300.4 257.7,298.4 258.0,296.3 258.2,294.2 258.5,292.1 258.7,290.0 259.0,287.9 259.3,285.9 259.5,283.8 259.8,281.7 260.2,279.6 260.5,277.4 260.9,275.2 261.2,273.1 261.6,270.9 261.9,268.8 262.2,266.6 262.6,264.5 263.0,262.4 263.4,260.2 263.8,258.1 264.3,256.0 264.7,253.9 265.1,251.7 265.5,249.6 266.2,247.5 266.9,245.5 267.5,243.4 268.2,241.4 268.9,239.3 269.5,236.5 270.1,233.6 272.4,232.5 274.7,231.3 275.1,229.2 275.5,227.1 275.9,225.0 276.2,222.9 276.6,220.8 277.0,218.7 277.5,216.6 277.9,214.6 278.4,212.5 278.8,210.5 279.3,208.4 282.1,206.8 282.6,208.8 283.1,210.8 283.5,212.8 284.0,214.8 284.0,216.8 284.1,218.8 284.1,220.8 284.2,222.8 284.2,224.8 284.3,226.8 284.3,228.8 284.4,230.8 284.4,232.8 284.5,234.8 284.5,236.8 284.5,238.8 284.6,240.8 284.6,242.8 284.7,244.8 284.7,246.8 284.8,248.8 284.8,250.8 284.9,252.8 284.9,254.8 285.0,256.8 285.0,258.8 285.1,256.8 285.2,254.8 285.3,252.8 285.4,250.8 285.5,248.8 285.6,246.8 285.7,244.8 285.8,242.8 285.8,240.8 285.9,238.8 286.0,236.8 286.1,234.8 286.2,232.8 286.3,230.8 286.4,228.8 286.5,226.8 288.4,230.2 288.9,232.5 289.3,234.8 289.8,237.0 290.2,239.3 290.7,241.6 291.4,243.9 292.1,246.2 292.9,248.5 293.6,250.8 293.9,253.1 294.2,255.4 294.5,257.7 294.7,259.9 295.0,262.2 295.3,264.5 296.0,266.8 296.7,269.1 297.3,271.4 298.0,273.7 298.7,276.0 299.2,278.3 299.6,280.6 300.1,282.8 300.5,285.1 301.0,287.4 301.1,289.4 301.3,291.5 301.4,293.5 301.5,295.6 301.7,297.6 301.8,299.7 301.9,301.7 302.1,303.8 302.2,305.8 302.5,308.0 302.9,310.2 303.2,312.5 303.5,314.7 303.9,316.9 304.2,319.1 304.6,321.2 304.9,323.3 305.2,325.5 305.6,327.6 305.9,329.7 306.3,331.8 306.6,333.9 307.0,336.0 307.3,338.1 307.6,340.3 307.9,342.4 308.2,344.5 308.4,346.6 308.7,348.7 309.0,350.9 309.3,353.0 309.6,355.1 309.9,357.2 310.2,359.3 310.5,361.4 310.7,363.6 311.0,365.7 311.3,367.8 311.6,369.9 311.9,372.0 312.1,374.1 312.4,376.2 312.7,378.3 313.0,380.4 313.2,382.5 313.5,384.6 313.7,386.6 314.0,388.7 314.2,390.8 314.5,392.8 314.8,395.0 315.1,397.2 315.4,399.4 315.7,401.6 316.0,403.8 317.0,401.3 318.0,398.9 318.4,396.8 318.7,394.7 319.1,392.6 319.4,390.5 319.8,388.4 320.1,386.3 320.4,384.2 320.8,382.1 321.1,380.0 321.5,377.9 321.8,380.0 322.1,382.1 322.4,384.3 322.6,386.4 322.9,388.6 323.2,390.7 323.5,392.9 323.9,394.9 324.2,396.9 324.6,398.9 325.0,400.9 325.4,402.9 325.8,404.9 326.1,406.9 326.5,408.9 326.7,410.9 326.9,412.9 327.1,414.9 327.3,416.9 327.6,418.9 327.8,420.9 328.0,423.0 328.2,425.0 328.4,427.0 329.0,429.2 329.7,431.4 330.3,433.6 331.0,435.8 331.6,438.0 331.7,440.0 331.7,442.0 331.8,444.0 331.8,446.0 331.9,448.1 331.9,450.1 332.0,452.1 332.0,454.1 332.1,456.1 332.1,458.1 332.2,460.1 332.2,462.2 332.2,464.2 332.3,466.2 332.6,468.4 333.0,470.7 333.3,472.9 333.7,475.2 334.0,477.4 334.4,479.7 334.7,481.9 334.9,484.1 335.2,486.4 335.4,488.6 335.6,490.8 335.8,493.0 336.1,495.3 336.3,497.5 336.5,499.6 336.7,501.8 336.9,503.9 337.1,506.1 337.3,508.2 337.6,510.3 337.8,512.5 338.0,514.6 338.2,516.7 338.4,518.9 338.6,521.0 338.8,523.0 339.1,525.0 339.3,527.0 339.5,529.0 339.8,531.0 340.0,533.0 340.2,534.9 340.4,536.9 340.7,538.9 340.9,540.9 341.2,543.0 341.4,545.1 341.7,547.2 341.9,549.2 342.2,551.3 342.4,553.4 342.7,555.5 342.9,557.6 343.2,559.7 343.4,561.7 343.7,563.8 343.9,565.9 344.1,568.1 344.3,570.2 344.5,572.3 344.7,574.4 344.9,576.5 345.1,578.6 345.3,580.8 345.5,582.9 345.7,585.0 345.9,587.1 346.1,589.2 346.3,591.3 346.6,593.4 346.8,595.4 347.1,597.4 347.3,599.5 347.6,601.5 347.8,603.5 348.1,605.6 348.3,607.6 348.6,609.6 348.8,611.7 349.1,613.7 349.3,615.7 349.5,617.9 349.7,620.0 349.9,622.1 350.2,624.2 350.4,626.3 350.6,628.4 350.8,630.6 351.0,632.7 351.2,634.8 351.5,636.9 351.7,639.0 351.9,641.1 352.1,643.2 352.3,645.4 352.5,647.5 352.7,649.6 352.9,651.7 353.1,653.8 353.3,655.9 353.6,658.1 353.8,660.2 354.0,662.3 354.2,664.4 354.4,666.5 354.6,668.6 354.8,670.8 355.1,672.8 355.3,674.9 355.6,677.0 355.9,679.1 356.1,681.2 356.4,683.3 356.6,685.3 356.9,687.4 357.2,689.5 357.4,691.6 357.7,693.7 358.0,695.7 358.2,697.8 358.5,699.9 358.7,702.0 359.0,704.1 359.2,706.2 359.5,708.2 359.7,710.3 360.0,712.4 360.2,714.5 360.5,716.6 360.7,718.6 361.0,720.6 361.2,722.7 361.5,724.7 361.7,726.8 362.0,728.8 362.2,730.8 362.5,732.9 362.7,734.9 363.0,736.9 363.2,739.0 363.5,741.0 363.9,743.0 364.2,745.1 364.5,747.1 364.9,749.1 365.2,751.2 365.5,753.2 365.9,755.2 366.2,757.3 366.5,759.3 366.8,761.3 367.2,763.4 367.5,765.4 367.8,767.4 368.2,769.5 368.5,771.5 368.7,773.5 369.0,775.6 369.2,777.6 369.4,779.7 369.6,781.7 369.9,783.7 370.1,785.8 370.3,787.8 370.5,789.9 370.8,791.9 371.0,793.9 371.2,796.0 371.4,798.0 371.7,800.1 371.9,802.1 372.2,804.1 372.6,806.2 372.9,808.2 373.2,810.2 373.6,812.3 373.9,814.3 374.2,816.3 374.6,818.4 374.9,820.4 375.2,822.4 375.6,824.5 375.9,826.5 376.2,828.6 376.6,830.6 376.9,832.6 377.3,834.7 377.7,836.7 378.0,838.7 378.4,840.8 378.8,842.8 379.2,844.8 379.6,846.9 379.9,848.9 380.3,850.9 380.7,853.0 381.1,855.0 381.5,857.0 381.8,859.1 382.2,861.1 382.6,863.1 383.0,865.2 383.4,867.2 383.8,869.3 384.1,871.3 384.5,873.3 384.9,875.4 385.3,877.4 385.7,879.5 386.1,881.5 386.5,883.5 386.9,885.6 387.2,887.6 387.6,889.7 388.0,891.7 388.4,893.8 388.8,895.8 389.1,897.8 389.5,899.9 389.9,901.9 390.3,903.9 390.6,906.0 391.0,908.0 391.4,910.0 391.8,912.1 392.1,914.1 392.5,916.1 392.9,918.2 393.3,920.2 393.6,922.2 394.0,924.3 394.5,926.2 395.0,928.2 395.5,930.2 396.0,932.1 396.5,934.1 397.2,936.1 397.9,938.2 398.6,940.2 399.3,942.3 399.9,944.3 400.6,946.4 401.3,948.4 402.0,950.5 402.7,952.5 403.4,954.6 404.0,956.6 404.6,958.5 405.2,960.5 405.8,962.4 406.4,964.4 406.9,966.4 407.5,968.3 408.1,970.3 408.7,972.2 409.3,974.2 409.9,976.2 410.5,978.1 411.1,980.1 411.8,982.0 412.4,984.0 413.1,986.0 413.8,987.9 414.4,989.9 415.1,991.8 415.7,993.8 416.4,995.8 417.0,997.7 417.7,999.7 418.3,1001.6 419.1,1003.5 419.8,1005.4 420.6,1007.2 421.4,1009.1 422.2,1010.9 422.9,1012.8 423.7,1014.7 424.9,1016.6 426.0,1018.6 427.2,1020.5 428.4,1022.5 429.5,1024.5 430.7,1026.6 431.9,1028.6 433.0,1030.7 435.2,1031.4 437.3,1032.0 439.5,1032.7 441.7,1033.4 443.8,1034.1 446.0,1034.7 448.0,1036.4 450.0,1038.1 452.0,1039.8 453.8,1041.1 455.5,1042.5 457.2,1043.9 459.0,1045.3 461.0,1046.8 463.0,1048.3 465.0,1049.8 467.1,1050.0 469.3,1050.1 471.4,1050.3 473.6,1050.4 475.7,1050.6 477.9,1050.7 480.0,1050.9 481.0,1048.4 482.0,1045.9 484.1,1045.9 486.2,1045.9 488.3,1045.9 490.4,1046.0 492.5,1046.0 494.6,1046.0 496.7,1046.0 498.8,1046.0 500.9,1046.0 503.0,1046.0 505.0,1043.0 507.0,1043.0 509.0,1043.0 511.0,1043.1 513.0,1043.1 514.2,1041.3 515.3,1039.6 516.5,1037.8 517.7,1036.1 518.8,1034.3 520.0,1032.6 521.9,1031.6 523.8,1030.5 525.7,1029.5 527.6,1028.4 529.5,1027.4 531.4,1026.4 533.4,1025.4 535.5,1024.4 537.5,1023.5 539.5,1022.5 541.1,1021.0 542.7,1019.6 544.2,1018.1 545.8,1016.7 547.4,1015.2 549.0,1013.7 550.6,1012.6 552.2,1011.4 553.8,1010.2 555.4,1009.0 557.0,1007.8 558.6,1006.4 560.1,1005.0 561.7,1003.7 563.3,1002.3 564.9,1000.9 566.4,999.5 568.0,998.1 569.4,996.6 570.8,995.1 572.1,993.6 573.5,992.0 574.9,990.5 576.3,989.0 577.7,987.5 579.0,986.0 580.4,984.4 581.8,982.9 583.2,981.4 584.5,979.9 585.9,978.4 587.3,976.9 588.6,975.3 590.0,973.8 591.4,972.3 592.8,970.8 594.1,969.3 595.5,967.8 596.6,966.1 597.7,964.4 598.8,962.7 599.9,961.0 601.0,959.3 602.1,957.6 603.2,955.9 604.3,954.2 605.4,952.5 606.5,950.8 607.6,949.2 608.7,947.5 609.8,945.8 610.9,944.1 612.0,942.4 613.1,940.7 614.2,939.1 615.3,937.4 616.5,935.5 617.7,933.6 619.0,931.7 620.2,929.9 621.4,928.0 622.6,926.1 623.7,924.4 624.9,922.7 626.0,921.0 627.2,919.3 628.3,917.6 629.5,915.9 630.6,914.3 631.8,912.6 632.9,910.9 633.9,909.0 635.0,907.0 636.0,905.1 637.1,903.2 638.1,901.3 639.2,899.4 640.2,897.5 641.3,895.6 642.3,893.7 643.4,891.8 644.5,889.9 645.5,888.0 646.5,886.1 647.6,884.2 648.7,882.3 649.7,880.4 650.6,878.5 651.5,876.6 652.4,874.7 653.4,872.8 654.3,870.9 655.2,869.0 656.1,867.1 657.0,865.2 658.2,863.3 659.5,861.4 660.7,859.6 661.9,857.7 663.1,855.8 664.3,854.0 665.6,852.1 666.8,850.2 667.8,848.3 668.9,846.3 669.9,844.3 670.9,842.4 672.0,840.4 673.0,838.5 674.1,836.5 675.1,834.6 676.2,832.6 677.3,830.7 678.4,828.7 679.5,826.8 680.5,824.9 681.6,822.9 682.6,821.0 683.6,819.0 684.7,817.0 685.7,815.1 686.7,813.1 687.8,811.2 688.8,809.2 689.8,807.2 691.0,805.5 692.2,803.8 693.3,802.1 694.5,800.3 695.7,798.6 696.9,796.9 698.0,795.2 699.2,793.4 700.4,791.7 701.5,789.7 702.5,787.8 703.6,785.8 704.7,783.9 705.8,781.9 706.9,779.9 707.9,778.0 709.0,776.0 710.2,774.3 711.4,772.5 712.5,770.8 713.7,769.0 714.9,767.3 716.1,765.5 717.2,763.8 718.4,762.0 719.6,760.3 720.9,758.4 722.2,756.6 723.4,754.7 724.7,752.9 726.0,751.0 727.3,749.4 728.6,747.7 729.9,746.1 731.2,744.5 732.6,742.8 733.9,741.2 735.2,739.5 736.5,737.9 738.1,736.5 739.6,735.2 741.2,733.8 742.8,732.5 744.3,731.1 745.9,729.7 747.4,728.4 749.0,727.0 750.8,726.0 752.5,725.0 754.3,724.0 756.0,723.0 757.8,722.0 759.6,721.0 761.3,720.0 763.1,719.0 765.3,718.6 767.6,718.1 769.8,717.7 772.1,717.3 774.3,716.9 776.6,716.4 778.8,716.0 780.8,716.1 782.8,716.3 784.8,716.4 786.9,716.6 788.9,716.7 790.9,716.9 792.9,717.0 795.2,717.8 797.6,718.5 799.9,719.3 802.3,720.1 803.9,721.5 805.4,722.9 807.0,724.3 808.6,725.7 810.1,727.1 811.7,728.5 813.3,730.3 815.0,732.0 816.6,733.8 818.2,735.6 820.2,734.0 822.1,732.5 824.0,731.0 826.0,729.4 827.6,730.7 829.1,732.0 830.7,733.3 832.3,734.6 833.8,735.9 835.4,737.2 836.7,739.0 838.1,740.8 839.4,742.6 840.8,744.3 842.1,746.1 843.5,747.9 844.8,749.7 846.4,751.3 847.9,752.8 849.5,754.4 851.1,756.0 852.6,757.5 854.2,759.1 856.1,758.2 858.0,757.2 859.8,756.3 861.7,755.3 863.6,754.4 865.2,756.0 866.7,757.5 868.3,759.1 869.9,760.7 871.5,762.3 873.0,763.8 874.6,765.4 876.2,766.8 877.7,768.1 879.3,769.5 880.9,770.8 882.4,772.2 884.0,773.6 885.5,774.9 887.1,776.3 889.2,776.9 891.3,777.5 893.4,778.1 895.4,778.8 897.5,779.4 899.6,780.0 901.2,781.5 902.8,783.1 904.4,784.6 906.0,786.1 907.6,787.7 909.2,789.2 910.8,790.7 912.4,792.3 914.0,793.8 915.4,795.2 916.8,796.7 918.3,798.1 919.7,799.5 921.1,800.9 922.5,802.4 923.9,803.8 925.3,805.2 926.8,806.6 928.2,808.1 929.6,809.5 931.0,810.9 932.5,812.3 933.9,813.8 935.3,815.2 936.7,816.6 938.2,818.0 939.6,819.4 941.0,820.8 942.4,822.3 943.9,823.7 945.3,825.1 946.4,826.9 947.5,828.7 948.7,830.5 949.8,832.3 950.9,834.0 952.0,835.8 953.1,837.6 954.3,839.4 955.4,841.2 956.5,843.0 957.9,844.6 959.2,846.1 960.6,847.7 962.0,849.2 963.4,850.8 964.7,852.4 966.1,853.9 967.5,855.5 968.8,857.0 970.2,858.6 971.5,860.3 972.9,861.9 974.2,863.6 975.6,865.3 976.9,867.0 978.3,868.6 979.6,870.3 981.0,872.0 982.3,873.7 983.7,875.3 985.0,877.0 986.4,878.6 987.9,880.3 989.3,881.9 990.7,883.5 992.1,885.2 993.6,886.8 995.0,888.5 996.4,890.1 997.8,891.7 999.3,893.4 1000.7,895.0 1002.5,896.0 1004.3,896.9 1006.1,897.8 1007.9,898.8 1009.4,900.4 1010.9,901.9 1012.4,903.5 1014.0,905.1 1015.5,906.7 1017.0,908.2 1018.5,909.8 1020.0,911.4 1021.6,912.7 1023.2,914.0 1024.8,915.2 1026.4,916.5 1028.0,917.8 1029.7,919.1 1031.3,920.4 1032.9,921.6 1034.5,922.9 1036.1,924.2 1037.9,925.5 1039.7,926.7 1041.4,928.0 1043.2,929.2 1045.0,930.5 1046.8,931.7 1048.5,933.0 1050.3,934.2 1052.1,935.5 1054.1,936.5 1056.1,937.5 1058.1,938.5 1060.2,939.5 1062.2,940.5 1064.2,941.5 1066.2,942.5 1068.2,943.5 1070.0,944.7 1071.8,946.0 1073.5,947.2 1075.3,948.5 1077.1,949.7 1078.9,951.0 1080.6,952.2 1082.4,953.5 1084.2,954.7 1085.8,956.0 1087.4,957.3 1089.0,958.6 1090.6,959.9 1092.2,961.2 1093.9,962.4 1095.5,963.7 1097.1,965.0 1098.7,966.3 1100.3,967.6 1102.1,968.7 1103.9,969.7 1105.6,970.8 1107.4,971.9 1109.2,972.9 1111.0,974.0 1112.7,975.1 1114.5,976.1 1116.3,977.2 1117.9,978.5 1119.5,979.8 1121.1,981.1 1122.7,982.4 1124.3,983.7 1126.0,984.9 1127.6,986.2 1129.2,987.5 1130.8,988.8 1132.4,990.1 1134.2,991.2 1136.0,992.2 1137.7,993.3 1139.5,994.4 1141.3,995.4 1143.1,996.5 1144.8,997.6 1146.6,998.6 1148.4,999.7 1150.2,1000.8 1152.0,1001.8 1153.8,1002.9 1155.6,1004.0 1157.3,1005.0 1159.1,1006.1 1160.9,1007.2 1162.7,1008.2 1164.5,1009.3 1166.5,1010.3 1168.5,1011.3 1170.5,1012.3 1172.5,1013.3 1174.5,1014.4 1176.5,1015.4 1178.5,1016.4 1180.5,1017.4 1182.5,1018.2 1184.5,1019.0 1186.5,1019.8 1188.5,1020.6 1190.6,1021.4 1192.6,1022.2 1194.6,1023.0 1196.6,1023.8 1198.8,1023.9 1201.0,1024.0 1202.8,1025.1 1204.6,1026.2 1206.4,1027.3 1208.2,1028.4 1210.0,1029.5 1212.2,1030.0 1214.4,1030.5 1216.6,1031.0 1218.8,1031.5 1221.0,1032.0" fill="none" stroke="#000000" stroke-width="5.3" stroke-linejoin="round" stroke-linecap="butt"/>
<polyline points="134.0,1100.0 138.0,1102.5 147.6,1099.7 155.4,1096.6 163.2,1091.9 169.5,1087.2 175.8,1081.0 182.0,1073.1 186.7,1063.7 191.4,1052.8 194.6,1040.2 197.7,1027.7 200.8,1015.2 204.0,1002.6 206.3,987.0 208.7,971.3 211.0,955.7 212.6,940.0 215.0,928.0 217.3,912.3 217.7,896.6 220.5,881.0 220.5,865.3 222.8,849.6 223.1,834.0 226.0,818.3 226.3,802.6 228.3,787.0 229.1,771.3 229.4,755.7 231.8,740.0 231.8,710.7 234.6,681.0 234.9,640.2 237.2,602.6 237.7,565.0 240.4,540.0 239.9,512.3 242.3,496.6 243.1,457.5 245.4,434.0 246.2,412.0 249.3,394.8 250.1,371.3 251.5,343.0 254.1,326.7 256.9,303.8 259.8,280.9 262.6,263.7 265.5,248.8 268.9,238.5 270.1,232.8 274.7,230.5 277.0,217.9 279.3,207.6 282.1,206.0 284.0,214.0 285.0,258.0 286.5,226.0 288.4,229.4 290.7,240.8 293.6,250.0 295.3,263.7 298.7,275.2 301.0,286.6 302.2,305.0 304.2,318.3 307.0,335.2 309.9,356.4 312.7,377.5 314.5,392.0 316.0,403.0 318.0,398.0 321.5,377.0 323.5,392.0 326.5,408.0 328.4,426.1 331.6,437.1 332.3,465.3 334.7,481.0 336.3,496.6 338.6,520.1 340.9,540.0 343.7,562.9 346.3,590.4 349.3,614.8 352.1,642.3 354.8,669.8 357.7,692.7 360.5,715.6 363.2,738.0 368.5,770.5 371.9,801.1 376.9,831.6 382.6,862.1 388.4,892.7 394.0,923.2 396.5,933.0 403.4,953.5 410.5,977.0 418.3,1000.5 423.7,1013.5 428.4,1021.3 433.0,1029.5 446.0,1033.5 452.0,1038.5 459.0,1044.0 465.0,1048.5 480.0,1049.5 482.0,1044.5 503.0,1044.5 505.0,1041.5 513.0,1041.5 520.0,1031.0 531.4,1024.7 539.5,1020.8 549.0,1012.0 557.0,1006.0 568.0,996.3 581.8,981.0 595.5,965.8 605.4,950.5 615.3,935.3 622.6,924.0 632.9,908.7 641.3,893.4 649.7,878.2 657.0,862.9 666.8,847.9 673.0,836.1 681.6,820.5 689.8,804.8 700.4,789.2 709.0,773.5 719.6,757.8 726.0,748.5 736.5,735.4 749.0,724.5 763.1,716.5 778.8,713.5 792.9,714.5 802.3,717.6 811.7,726.0 818.2,733.1 826.0,726.9 835.4,734.7 844.8,747.2 854.2,756.6 863.6,751.9 874.6,762.9 887.1,773.8 899.6,777.5 914.0,791.3 929.6,807.0 945.3,822.6 956.5,840.5 970.2,856.1 985.0,874.5 1000.7,892.5 1007.9,896.3 1020.0,908.9 1036.1,921.7 1052.1,933.0 1068.2,941.0 1084.2,952.2 1100.3,965.1 1116.3,974.7 1132.4,987.6 1148.4,997.2 1164.5,1006.8 1180.5,1014.9 1196.6,1021.3 1201.0,1021.5 1210.0,1027.0 1221.0,1029.5" fill="none" stroke="#000000" stroke-width="5.3" stroke-linejoin="round" stroke-linecap="butt"/>
<rect x="646.2" y="881.8" width="3" height="8.2" fill="#000000"/>
<rect x="585.1" y="975.7" width="3" height="6.8" fill="#000000"/>
<rect x="911.0" y="789.8" width="3" height="7.9" fill="#000000"/>
<rect x="891.4" y="775.5" width="3" height="5.8" fill="#000000"/>
<rect x="488.5" y="1044.5" width="3" height="9.0" fill="#000000"/>
<rect x="803.1" y="719.7" width="3" height="6.8" fill="#000000"/>
<rect x="644.2" y="885.4" width="3" height="6.2" fill="#000000"/>
<rect x="987.6" y="879.2" width="3" height="7.9" fill="#000000"/>
<rect x="1086.7" y="955.4" width="3" height="8.2" fill="#000000"/>
<rect x="734.3" y="736.2" width="3" height="8.7" fill="#000000"/>
<rect x="598.4" y="959.0" width="3" height="6.2" fill="#000000"/>
<rect x="599.0" y="958.1" width="3" height="9.3" fill="#000000"/>
<rect x="844.0" y="747.9" width="3" height="7.4" fill="#000000"/>
<rect x="490.5" y="1044.5" width="3" height="7.8" fill="#000000"/>
<rect x="532.9" y="1023.2" width="3" height="5.5" fill="#000000"/>
<rect x="1196.2" y="1021.3" width="3" height="8.5" fill="#000000"/>
<rect x="679.1" y="822.3" width="3" height="9.3" fill="#000000"/>
<rect x="1076.0" y="947.5" width="3" height="9.8" fill="#000000"/>
<polygon points="264,250 265.5,231 277,229.5 279,235 272,244 268,250" fill="#000"/>
</g>
<!-- arrows -->
<line x1="387.3" y1="379.2" x2="301" y2="479.5" stroke="#ff0000" stroke-width="2"/>
<polygon points="288.5,494.5 296.5,472.5 307.5,482.5" fill="#ff0000"/>
<line x1="904.5" y1="644" x2="818" y2="748" stroke="#0000ff" stroke-width="2"/>
<polygon points="808.5,755.5 813.8,741 824.2,748.3" fill="#0000ff"/>
<g shape-rendering="crispEdges">
<rect x="316" y="1138" width="5" height="14" fill="#000"/>
<rect x="617" y="1138" width="5" height="14" fill="#000"/>
<rect x="917" y="1138" width="5" height="14" fill="#000"/>
<rect x="1218" y="1138" width="6" height="14" fill="#000"/>
<rect x="165" y="1138" width="5" height="5" fill="#000"/>
<rect x="467" y="1138" width="5" height="5" fill="#000"/>
<rect x="769" y="1138" width="5" height="5" fill="#000"/>
<rect x="1068" y="1138" width="5" height="5" fill="#000"/>
</g>
<g font-size="42" text-anchor="middle">
<text x="317" y="1196">400</text>
<text x="619" y="1196">500</text>
<text x="918" y="1196">600</text>
<text x="1220" y="1196">700</text>
</g>
<text x="686.5" y="1263" font-size="58" text-anchor="middle" textLength="457" lengthAdjust="spacingAndGlyphs">Wavelength (nm)</text>
<text transform="translate(75,552) rotate(-90)" font-size="58" text-anchor="middle" textLength="598" lengthAdjust="spacingAndGlyphs">PL intensity (arb. unit)</text>
<g font-size="39">
<text x="574.5" y="249.5" fill="#800000">(i) WO 0.5</text>
<text x="574.5" y="296.5" fill="#000080">(ii) WO 1.0</text>
<text x="574.5" y="347" fill="#808080">(iii) WO 2.0</text>
<text x="574.5" y="397.5" fill="#ff0000">(iv) WO 0.5 + ZnO 2.0</text>
<text x="574.5" y="445" fill="#0000ff">(v) WO 1.0 + ZnO 2.0</text>
<text x="574.5" y="495" fill="#000">(vi) WO 2.0 + ZnO 2.0</text>
</g>
<g font-size="41.5">
<text x="316" y="257.5" fill="#1c1c1c">(vi)</text>
<text x="402" y="352.5" fill="#ff0000">(iv)</text>
<text x="243" y="676" fill="#0000ff">(v)</text>
<text x="918" y="640" fill="#0000ff">(v)</text>
<text x="914.5" y="763.5" fill="#1c1c1c">(vi)</text>
<text x="788" y="877" fill="#ff0000">(iv)</text>
<text x="864" y="1067.5" fill="#808080" letter-spacing="0.55">(i)-(iii)</text>
</g>
</svg>
</body></html>
